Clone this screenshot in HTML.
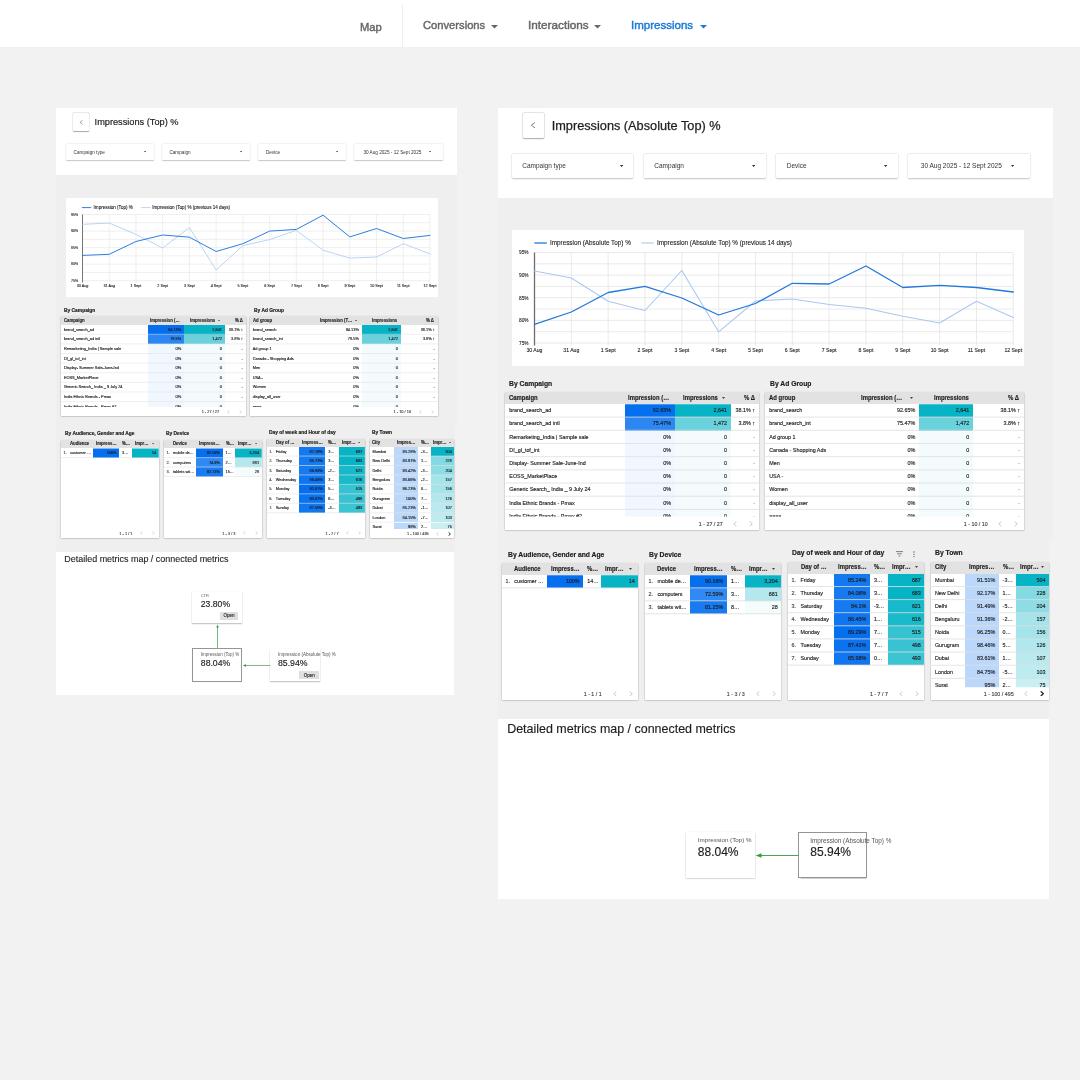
<!DOCTYPE html><html><head><meta charset="utf-8"><title>Impressions dashboard</title><style>
html,body{margin:0;padding:0}body{width:1080px;height:1080px;overflow:hidden;position:relative;background:#f2f2f2;font-family:"Liberation Sans",sans-serif;}
.a{position:absolute;display:block}.t{position:absolute;white-space:nowrap;line-height:1;transform-origin:0 0;font-family:"Liberation Sans",sans-serif;}.b{font-weight:bold}
.tb{background:#fff;box-shadow:0 .9px 1.5px rgba(0,0,0,.34),0 0 1.2px rgba(0,0,0,.12)}
</style></head><body><div id="root" style="position:absolute;left:0;top:0;width:1080px;height:1080px;overflow:hidden;will-change:transform;transform:translateZ(0);filter:blur(0.3px);">
<div class="a " style="left:56px;top:175px;width:401px;height:247px;background:#efefef;"></div>
<div class="a " style="left:56px;top:422px;width:398.5px;height:130px;background:#efefef;"></div>
<div class="a " style="left:56px;top:107.8px;width:401px;height:67.2px;background:#fff;"></div>
<div class="a " style="left:73.4px;top:113.1px;width:15.7px;height:18.3px;background:#fff;box-shadow:0 0.65px 0.98px rgba(0,0,0,.3),0 0 0 0.39px rgba(0,0,0,.12);border-radius:0.78px;"></div>
<svg class="a" style="left:78.95px;top:119.95px" width="4.6" height="4.6" viewBox="0 0 8 8"><path d="M6.3 0.6L1.6 4L6.3 7.4" fill="none" stroke="#828282" stroke-width="1.25"/></svg>
<span class="t" style="left:94.6px;top:118px;font-size:9.21px;color:#1e1e1e;-webkit-text-stroke:0.18px #1e1e1e;">Impressions (Top) %</span>
<div class="a " style="left:65.5px;top:143.9px;width:88.5px;height:16.3px;background:#fff;box-shadow:0 0.65px 1.3px rgba(0,0,0,.22),0 0 1.3px rgba(0,0,0,.10);border-radius:1px;"></div>
<span class="t" style="left:73.6px;top:151px;font-size:4.68px;color:#333;">Campaign type</span>
<svg class="a" style="left:144.1px;top:151.39px" width="2.2" height="1.38" viewBox="0 0 8 5"><path d="M0 0H8L4 5Z" fill="#333"/></svg>
<div class="a " style="left:161.6px;top:143.9px;width:88.2px;height:16.3px;background:#fff;box-shadow:0 0.65px 1.3px rgba(0,0,0,.22),0 0 1.3px rgba(0,0,0,.10);border-radius:1px;"></div>
<span class="t" style="left:169.4px;top:151px;font-size:4.68px;color:#333;">Campaign</span>
<svg class="a" style="left:240.3px;top:151.39px" width="2.2" height="1.38" viewBox="0 0 8 5"><path d="M0 0H8L4 5Z" fill="#333"/></svg>
<div class="a " style="left:257.5px;top:143.9px;width:88.9px;height:16.3px;background:#fff;box-shadow:0 0.65px 1.3px rgba(0,0,0,.22),0 0 1.3px rgba(0,0,0,.10);border-radius:1px;"></div>
<span class="t" style="left:265.9px;top:151px;font-size:4.68px;color:#333;">Device</span>
<svg class="a" style="left:336.3px;top:151.39px" width="2.2" height="1.38" viewBox="0 0 8 5"><path d="M0 0H8L4 5Z" fill="#333"/></svg>
<div class="a " style="left:353.5px;top:143.9px;width:89px;height:16.3px;background:#fff;box-shadow:0 0.65px 1.3px rgba(0,0,0,.22),0 0 1.3px rgba(0,0,0,.10);border-radius:1px;"></div>
<span class="t" style="left:363.4px;top:151px;font-size:4.68px;color:#333;">30 Aug 2025 - 12 Sept 2025</span>
<svg class="a" style="left:429.2px;top:151.39px" width="2.2" height="1.38" viewBox="0 0 8 5"><path d="M0 0H8L4 5Z" fill="#333"/></svg>
<div class="a " style="left:65.6px;top:197.6px;width:372.9px;height:99.8px;background:#fff;"></div>
<svg class="a" style="left:0;top:0" width="1080" height="1080" viewBox="0 0 1080 1080"><path d="M82.5 214.5H429.99" stroke="#e4e4e4" stroke-width="0.6"/><path d="M82.5 222.78H429.99" stroke="#e4e4e4" stroke-width="0.6"/><path d="M82.5 231.05H429.99" stroke="#e4e4e4" stroke-width="0.6"/><path d="M82.5 239.32H429.99" stroke="#e4e4e4" stroke-width="0.6"/><path d="M82.5 247.6H429.99" stroke="#e4e4e4" stroke-width="0.6"/><path d="M82.5 255.88H429.99" stroke="#e4e4e4" stroke-width="0.6"/><path d="M82.5 264.15H429.99" stroke="#e4e4e4" stroke-width="0.6"/><path d="M82.5 272.43H429.99" stroke="#e4e4e4" stroke-width="0.6"/><path d="M82.5 280.7H429.99" stroke="#e4e4e4" stroke-width="0.6"/><path d="M82.5 214.5V282.5" stroke="#e4e4e4" stroke-width="0.6"/><path d="M109.23 214.5V282.5" stroke="#e4e4e4" stroke-width="0.6"/><path d="M135.96 214.5V282.5" stroke="#e4e4e4" stroke-width="0.6"/><path d="M162.69 214.5V282.5" stroke="#e4e4e4" stroke-width="0.6"/><path d="M189.42 214.5V282.5" stroke="#e4e4e4" stroke-width="0.6"/><path d="M216.15 214.5V282.5" stroke="#e4e4e4" stroke-width="0.6"/><path d="M242.88 214.5V282.5" stroke="#e4e4e4" stroke-width="0.6"/><path d="M269.61 214.5V282.5" stroke="#e4e4e4" stroke-width="0.6"/><path d="M296.34 214.5V282.5" stroke="#e4e4e4" stroke-width="0.6"/><path d="M323.07 214.5V282.5" stroke="#e4e4e4" stroke-width="0.6"/><path d="M349.8 214.5V282.5" stroke="#e4e4e4" stroke-width="0.6"/><path d="M376.53 214.5V282.5" stroke="#e4e4e4" stroke-width="0.6"/><path d="M403.26 214.5V282.5" stroke="#e4e4e4" stroke-width="0.6"/><path d="M429.99 214.5V282.5" stroke="#e4e4e4" stroke-width="0.6"/><path d="M82.5 214.5V282.5" stroke="#6e6e6e" stroke-width="0.95"/><polyline points="82.5,224.4 109.23,223 135.96,234.4 162.69,248 189.42,227.6 216.15,270 242.88,245.6 269.61,239.6 296.34,230.4 323.07,250.2 349.8,258.1 376.53,257 403.26,243.7 429.99,253.9" fill="none" stroke="#a9c9f0" stroke-width="0.8" stroke-linejoin="round" stroke-linecap="round"/><polyline points="82.5,255.4 109.23,254.3 135.96,241.5 162.69,235 189.42,237.2 216.15,251.5 242.88,243.7 269.61,231.1 296.34,229.4 323.07,215.2 349.8,236.9 376.53,228.5 403.26,238.5 429.99,235.4" fill="none" stroke="#2278dc" stroke-width="0.95" stroke-linejoin="round" stroke-linecap="round"/><path d="M81.9 207.6H91.2" stroke="#2278dc" stroke-width="0.95"/><path d="M141.2 207.6H150.4" stroke="#a9c9f0" stroke-width="0.8"/></svg>
<span class="t" style="left:93.6px;top:206px;font-size:4.56px;color:#222;-webkit-text-stroke:0.1px #222;">Impression (Top) %</span>
<span class="t" style="left:152.3px;top:206px;font-size:4.56px;color:#222;-webkit-text-stroke:0.1px #222;">Impression (Top) % (previous 14 days)</span>
<span class="t" style="left:71.3px;top:214px;font-size:3.75px;color:#222;transform:scaleX(0.93);-webkit-text-stroke:0.1px #222;">95%</span>
<span class="t" style="left:71.3px;top:230px;font-size:3.75px;color:#222;transform:scaleX(0.93);-webkit-text-stroke:0.1px #222;">90%</span>
<span class="t" style="left:71.3px;top:247px;font-size:3.75px;color:#222;transform:scaleX(0.93);-webkit-text-stroke:0.1px #222;">85%</span>
<span class="t" style="left:71.3px;top:263px;font-size:3.75px;color:#222;transform:scaleX(0.93);-webkit-text-stroke:0.1px #222;">80%</span>
<span class="t" style="left:71.3px;top:280px;font-size:3.75px;color:#222;transform:scaleX(0.93);-webkit-text-stroke:0.1px #222;">75%</span>
<span class="t" style="left:76.66px;top:285px;font-size:3.75px;color:#222;-webkit-text-stroke:0.1px #222;">30 Aug</span>
<span class="t" style="left:103.39px;top:285px;font-size:3.75px;color:#222;-webkit-text-stroke:0.1px #222;">31 Aug</span>
<span class="t" style="left:130.54px;top:285px;font-size:3.75px;color:#222;-webkit-text-stroke:0.1px #222;">1 Sept</span>
<span class="t" style="left:157.27px;top:285px;font-size:3.75px;color:#222;-webkit-text-stroke:0.1px #222;">2 Sept</span>
<span class="t" style="left:184px;top:285px;font-size:3.75px;color:#222;-webkit-text-stroke:0.1px #222;">3 Sept</span>
<span class="t" style="left:210.73px;top:285px;font-size:3.75px;color:#222;-webkit-text-stroke:0.1px #222;">4 Sept</span>
<span class="t" style="left:237.46px;top:285px;font-size:3.75px;color:#222;-webkit-text-stroke:0.1px #222;">5 Sept</span>
<span class="t" style="left:264.19px;top:285px;font-size:3.75px;color:#222;-webkit-text-stroke:0.1px #222;">6 Sept</span>
<span class="t" style="left:290.92px;top:285px;font-size:3.75px;color:#222;-webkit-text-stroke:0.1px #222;">7 Sept</span>
<span class="t" style="left:317.65px;top:285px;font-size:3.75px;color:#222;-webkit-text-stroke:0.1px #222;">8 Sept</span>
<span class="t" style="left:344.38px;top:285px;font-size:3.75px;color:#222;-webkit-text-stroke:0.1px #222;">9 Sept</span>
<span class="t" style="left:370.07px;top:285px;font-size:3.75px;color:#222;-webkit-text-stroke:0.1px #222;">10 Sept</span>
<span class="t" style="left:396.94px;top:285px;font-size:3.75px;color:#222;-webkit-text-stroke:0.1px #222;">11 Sept</span>
<span class="t" style="left:423.53px;top:285px;font-size:3.75px;color:#222;-webkit-text-stroke:0.1px #222;">12 Sept</span>
<span class="t b" style="left:64px;top:308px;font-size:5.2px;color:#1c1c1c;transform:scaleX(0.94);-webkit-text-stroke:0.18px #1c1c1c;">By Campaign</span>
<span class="t b" style="left:253.6px;top:308px;font-size:5.2px;color:#1c1c1c;transform:scaleX(0.94);-webkit-text-stroke:0.18px #1c1c1c;">By Ad Group</span>
<div class="a tb" style="left:61px;top:316.3px;width:184.8px;height:99.8px;"></div>
<div class="a " style="left:61px;top:316.3px;width:184.8px;height:8.7px;background:#e2e2e2;"></div>
<span class="t b" style="left:63.9px;top:319px;font-size:4.55px;color:#1f1f1f;transform:scaleX(0.94);-webkit-text-stroke:0.14px #1f1f1f;">Campaign</span>
<span class="t b" style="left:149.83px;top:319px;font-size:4.55px;color:#1f1f1f;transform:scaleX(0.94);-webkit-text-stroke:0.14px #1f1f1f;">Impression (…</span>
<span class="t b" style="left:190.07px;top:319px;font-size:4.55px;color:#1f1f1f;transform:scaleX(0.94);-webkit-text-stroke:0.14px #1f1f1f;">Impressions</span>
<svg class="a" style="left:218.3px;top:319.78px" width="2.2" height="1.38" viewBox="0 0 8 5"><path d="M0 0H8L4 5Z" fill="#444"/></svg>
<span class="t b" style="left:234.75px;top:319px;font-size:4.55px;color:#1f1f1f;transform:scaleX(0.94);-webkit-text-stroke:0.14px #1f1f1f;">% Δ</span>
<div class="a" style="left:0;top:0;width:1080px;height:1080px;clip-path:inset(325px 834.2px 673px 61px);">
<div class="a " style="left:148px;top:325px;width:36.1px;height:9.61px;background:#0470f0;"></div>
<div class="a " style="left:184.1px;top:325px;width:40.8px;height:9.61px;background:#06b4c6;"></div>
<span class="t" style="left:63.9px;top:328px;font-size:3.9px;color:#1c1c1c;-webkit-text-stroke:0.13px #1c1c1c;">brand_search_ad</span>
<span class="t" style="left:167.97px;top:328px;font-size:3.9px;color:#1c1c1c;-webkit-text-stroke:0.13px #1c1c1c;">94.13%</span>
<span class="t" style="left:212.24px;top:328px;font-size:3.9px;color:#1c1c1c;-webkit-text-stroke:0.13px #1c1c1c;">2,641</span>
<span class="t" style="left:228.81px;top:328px;font-size:3.9px;color:#1c1c1c;-webkit-text-stroke:0.13px #1c1c1c;">38.1% ↑</span>
<div class="a " style="left:148px;top:334.61px;width:36.1px;height:9.61px;background:#2c87f2;"></div>
<div class="a " style="left:184.1px;top:334.61px;width:40.8px;height:9.61px;background:#6ad2dd;"></div>
<span class="t" style="left:63.9px;top:337px;font-size:3.9px;color:#1c1c1c;-webkit-text-stroke:0.13px #1c1c1c;">brand_search_ad intl</span>
<span class="t" style="left:170.14px;top:337px;font-size:3.9px;color:#1c1c1c;-webkit-text-stroke:0.13px #1c1c1c;">78.5%</span>
<span class="t" style="left:212.24px;top:337px;font-size:3.9px;color:#1c1c1c;-webkit-text-stroke:0.13px #1c1c1c;">1,472</span>
<span class="t" style="left:230.98px;top:337px;font-size:3.9px;color:#1c1c1c;-webkit-text-stroke:0.13px #1c1c1c;">3.8% ↑</span>
<div class="a " style="left:148px;top:344.22px;width:36.1px;height:9.61px;background:#f1f7fe;"></div>
<div class="a " style="left:184.1px;top:344.22px;width:40.8px;height:9.61px;background:#f3fbfc;"></div>
<span class="t" style="left:63.9px;top:347px;font-size:3.9px;color:#1c1c1c;-webkit-text-stroke:0.13px #1c1c1c;">Remarketing_India | Sample sale</span>
<span class="t" style="left:175.56px;top:347px;font-size:3.9px;color:#1c1c1c;-webkit-text-stroke:0.13px #1c1c1c;">0%</span>
<span class="t" style="left:219.83px;top:347px;font-size:3.9px;color:#1c1c1c;-webkit-text-stroke:0.13px #1c1c1c;">0</span>
<span class="t" style="left:241.6px;top:347px;font-size:3.9px;color:#888;-webkit-text-stroke:0.13px #888;">-</span>
<div class="a " style="left:148px;top:353.83px;width:36.1px;height:9.61px;background:#f1f7fe;"></div>
<div class="a " style="left:184.1px;top:353.83px;width:40.8px;height:9.61px;background:#f3fbfc;"></div>
<span class="t" style="left:63.9px;top:357px;font-size:3.9px;color:#1c1c1c;-webkit-text-stroke:0.13px #1c1c1c;">DI_gl_tof_int</span>
<span class="t" style="left:175.56px;top:357px;font-size:3.9px;color:#1c1c1c;-webkit-text-stroke:0.13px #1c1c1c;">0%</span>
<span class="t" style="left:219.83px;top:357px;font-size:3.9px;color:#1c1c1c;-webkit-text-stroke:0.13px #1c1c1c;">0</span>
<span class="t" style="left:241.6px;top:357px;font-size:3.9px;color:#888;-webkit-text-stroke:0.13px #888;">-</span>
<div class="a " style="left:148px;top:363.44px;width:36.1px;height:9.61px;background:#f1f7fe;"></div>
<div class="a " style="left:184.1px;top:363.44px;width:40.8px;height:9.61px;background:#f3fbfc;"></div>
<span class="t" style="left:63.9px;top:366px;font-size:3.9px;color:#1c1c1c;-webkit-text-stroke:0.13px #1c1c1c;">Display- Summer Sale-June-Ind</span>
<span class="t" style="left:175.56px;top:366px;font-size:3.9px;color:#1c1c1c;-webkit-text-stroke:0.13px #1c1c1c;">0%</span>
<span class="t" style="left:219.83px;top:366px;font-size:3.9px;color:#1c1c1c;-webkit-text-stroke:0.13px #1c1c1c;">0</span>
<span class="t" style="left:241.6px;top:366px;font-size:3.9px;color:#888;-webkit-text-stroke:0.13px #888;">-</span>
<div class="a " style="left:148px;top:373.05px;width:36.1px;height:9.61px;background:#f1f7fe;"></div>
<div class="a " style="left:184.1px;top:373.05px;width:40.8px;height:9.61px;background:#f3fbfc;"></div>
<span class="t" style="left:63.9px;top:376px;font-size:3.9px;color:#1c1c1c;-webkit-text-stroke:0.13px #1c1c1c;">EOSS_MarketPlace</span>
<span class="t" style="left:175.56px;top:376px;font-size:3.9px;color:#1c1c1c;-webkit-text-stroke:0.13px #1c1c1c;">0%</span>
<span class="t" style="left:219.83px;top:376px;font-size:3.9px;color:#1c1c1c;-webkit-text-stroke:0.13px #1c1c1c;">0</span>
<span class="t" style="left:241.6px;top:376px;font-size:3.9px;color:#888;-webkit-text-stroke:0.13px #888;">-</span>
<div class="a " style="left:148px;top:382.66px;width:36.1px;height:9.61px;background:#f1f7fe;"></div>
<div class="a " style="left:184.1px;top:382.66px;width:40.8px;height:9.61px;background:#f3fbfc;"></div>
<span class="t" style="left:63.9px;top:385px;font-size:3.9px;color:#1c1c1c;-webkit-text-stroke:0.13px #1c1c1c;">Generic Search_ India _ 9 July 24</span>
<span class="t" style="left:175.56px;top:385px;font-size:3.9px;color:#1c1c1c;-webkit-text-stroke:0.13px #1c1c1c;">0%</span>
<span class="t" style="left:219.83px;top:385px;font-size:3.9px;color:#1c1c1c;-webkit-text-stroke:0.13px #1c1c1c;">0</span>
<span class="t" style="left:241.6px;top:385px;font-size:3.9px;color:#888;-webkit-text-stroke:0.13px #888;">-</span>
<div class="a " style="left:148px;top:392.27px;width:36.1px;height:9.61px;background:#f1f7fe;"></div>
<div class="a " style="left:184.1px;top:392.27px;width:40.8px;height:9.61px;background:#f3fbfc;"></div>
<span class="t" style="left:63.9px;top:395px;font-size:3.9px;color:#1c1c1c;-webkit-text-stroke:0.13px #1c1c1c;">India Ethnic Brands - Pmax</span>
<span class="t" style="left:175.56px;top:395px;font-size:3.9px;color:#1c1c1c;-webkit-text-stroke:0.13px #1c1c1c;">0%</span>
<span class="t" style="left:219.83px;top:395px;font-size:3.9px;color:#1c1c1c;-webkit-text-stroke:0.13px #1c1c1c;">0</span>
<span class="t" style="left:241.6px;top:395px;font-size:3.9px;color:#888;-webkit-text-stroke:0.13px #888;">-</span>
<div class="a " style="left:148px;top:401.88px;width:36.1px;height:9.61px;background:#f1f7fe;"></div>
<div class="a " style="left:184.1px;top:401.88px;width:40.8px;height:9.61px;background:#f3fbfc;"></div>
<span class="t" style="left:63.9px;top:405px;font-size:3.9px;color:#1c1c1c;-webkit-text-stroke:0.13px #1c1c1c;">India Ethnic Brands - Pmax #2</span>
<span class="t" style="left:175.56px;top:405px;font-size:3.9px;color:#1c1c1c;-webkit-text-stroke:0.13px #1c1c1c;">0%</span>
<span class="t" style="left:219.83px;top:405px;font-size:3.9px;color:#1c1c1c;-webkit-text-stroke:0.13px #1c1c1c;">0</span>
<span class="t" style="left:241.6px;top:405px;font-size:3.9px;color:#888;-webkit-text-stroke:0.13px #888;">-</span>
<svg class="a" style="left:0;top:0" width="1080" height="1080"><path d="M61 334.31H245.8M61 343.92H245.8M61 353.53H245.8M61 363.14H245.8M61 372.75H245.8M61 382.36H245.8M61 391.97H245.8M61 401.58H245.8M61 411.19H245.8" stroke="#e4e4e4" stroke-width="0.6" fill="none"/></svg>
</div>
<span class="t" style="left:201.64px;top:410px;font-size:3.9px;color:#444;-webkit-text-stroke:0.13px #444;">1 - 27 / 27</span>
<svg class="a" style="left:226.7px;top:409.7px" width="3" height="4" viewBox="0 0 6 8"><path d="M5 0.5L1.2 4L5 7.5" fill="none" stroke="#b8b8b8" stroke-width="1.1"/></svg>
<svg class="a" style="left:238.7px;top:409.7px" width="3" height="4" viewBox="0 0 6 8"><path d="M1 0.5L4.8 4L1 7.5" fill="none" stroke="#b8b8b8" stroke-width="1.1"/></svg>
<div class="a tb" style="left:249.8px;top:316.3px;width:187.9px;height:99.8px;"></div>
<div class="a " style="left:249.8px;top:316.3px;width:187.9px;height:8.7px;background:#e2e2e2;"></div>
<span class="t b" style="left:252.7px;top:319px;font-size:4.55px;color:#1f1f1f;transform:scaleX(0.94);-webkit-text-stroke:0.14px #1f1f1f;">Ad group</span>
<span class="t b" style="left:319.91px;top:319px;font-size:4.55px;color:#1f1f1f;transform:scaleX(0.94);-webkit-text-stroke:0.14px #1f1f1f;">Impression (T…</span>
<svg class="a" style="left:355.4px;top:319.78px" width="2.2" height="1.38" viewBox="0 0 8 5"><path d="M0 0H8L4 5Z" fill="#444"/></svg>
<span class="t b" style="left:372.47px;top:319px;font-size:4.55px;color:#1f1f1f;transform:scaleX(0.94);-webkit-text-stroke:0.14px #1f1f1f;">Impressions</span>
<span class="t b" style="left:426.35px;top:319px;font-size:4.55px;color:#1f1f1f;transform:scaleX(0.94);-webkit-text-stroke:0.14px #1f1f1f;">% Δ</span>
<div class="a" style="left:0;top:0;width:1080px;height:1080px;clip-path:inset(325px 642.3px 673px 249.8px);">
<div class="a " style="left:361.8px;top:325px;width:39.1px;height:9.61px;background:#06b4c6;"></div>
<span class="t" style="left:252.7px;top:328px;font-size:3.9px;color:#1c1c1c;-webkit-text-stroke:0.13px #1c1c1c;">brand_search</span>
<span class="t" style="left:345.67px;top:328px;font-size:3.9px;color:#1c1c1c;-webkit-text-stroke:0.13px #1c1c1c;">94.13%</span>
<span class="t" style="left:388.24px;top:328px;font-size:3.9px;color:#1c1c1c;-webkit-text-stroke:0.13px #1c1c1c;">2,641</span>
<span class="t" style="left:420.71px;top:328px;font-size:3.9px;color:#1c1c1c;-webkit-text-stroke:0.13px #1c1c1c;">38.1% ↑</span>
<div class="a " style="left:361.8px;top:334.61px;width:39.1px;height:9.61px;background:#6ad2dd;"></div>
<span class="t" style="left:252.7px;top:337px;font-size:3.9px;color:#1c1c1c;-webkit-text-stroke:0.13px #1c1c1c;">brand_search_int</span>
<span class="t" style="left:347.84px;top:337px;font-size:3.9px;color:#1c1c1c;-webkit-text-stroke:0.13px #1c1c1c;">78.5%</span>
<span class="t" style="left:388.24px;top:337px;font-size:3.9px;color:#1c1c1c;-webkit-text-stroke:0.13px #1c1c1c;">1,472</span>
<span class="t" style="left:422.88px;top:337px;font-size:3.9px;color:#1c1c1c;-webkit-text-stroke:0.13px #1c1c1c;">3.8% ↑</span>
<div class="a " style="left:361.8px;top:344.22px;width:39.1px;height:9.61px;background:#f3fbfc;"></div>
<span class="t" style="left:252.7px;top:347px;font-size:3.9px;color:#1c1c1c;-webkit-text-stroke:0.13px #1c1c1c;">Ad group 1</span>
<span class="t" style="left:353.26px;top:347px;font-size:3.9px;color:#1c1c1c;-webkit-text-stroke:0.13px #1c1c1c;">0%</span>
<span class="t" style="left:395.83px;top:347px;font-size:3.9px;color:#1c1c1c;-webkit-text-stroke:0.13px #1c1c1c;">0</span>
<span class="t" style="left:433.5px;top:347px;font-size:3.9px;color:#888;-webkit-text-stroke:0.13px #888;">-</span>
<div class="a " style="left:361.8px;top:353.83px;width:39.1px;height:9.61px;background:#f3fbfc;"></div>
<span class="t" style="left:252.7px;top:357px;font-size:3.9px;color:#1c1c1c;-webkit-text-stroke:0.13px #1c1c1c;">Canada - Shopping Ads</span>
<span class="t" style="left:353.26px;top:357px;font-size:3.9px;color:#1c1c1c;-webkit-text-stroke:0.13px #1c1c1c;">0%</span>
<span class="t" style="left:395.83px;top:357px;font-size:3.9px;color:#1c1c1c;-webkit-text-stroke:0.13px #1c1c1c;">0</span>
<span class="t" style="left:433.5px;top:357px;font-size:3.9px;color:#888;-webkit-text-stroke:0.13px #888;">-</span>
<div class="a " style="left:361.8px;top:363.44px;width:39.1px;height:9.61px;background:#f3fbfc;"></div>
<span class="t" style="left:252.7px;top:366px;font-size:3.9px;color:#1c1c1c;-webkit-text-stroke:0.13px #1c1c1c;">Men</span>
<span class="t" style="left:353.26px;top:366px;font-size:3.9px;color:#1c1c1c;-webkit-text-stroke:0.13px #1c1c1c;">0%</span>
<span class="t" style="left:395.83px;top:366px;font-size:3.9px;color:#1c1c1c;-webkit-text-stroke:0.13px #1c1c1c;">0</span>
<span class="t" style="left:433.5px;top:366px;font-size:3.9px;color:#888;-webkit-text-stroke:0.13px #888;">-</span>
<div class="a " style="left:361.8px;top:373.05px;width:39.1px;height:9.61px;background:#f3fbfc;"></div>
<span class="t" style="left:252.7px;top:376px;font-size:3.9px;color:#1c1c1c;-webkit-text-stroke:0.13px #1c1c1c;">USA -</span>
<span class="t" style="left:353.26px;top:376px;font-size:3.9px;color:#1c1c1c;-webkit-text-stroke:0.13px #1c1c1c;">0%</span>
<span class="t" style="left:395.83px;top:376px;font-size:3.9px;color:#1c1c1c;-webkit-text-stroke:0.13px #1c1c1c;">0</span>
<span class="t" style="left:433.5px;top:376px;font-size:3.9px;color:#888;-webkit-text-stroke:0.13px #888;">-</span>
<div class="a " style="left:361.8px;top:382.66px;width:39.1px;height:9.61px;background:#f3fbfc;"></div>
<span class="t" style="left:252.7px;top:385px;font-size:3.9px;color:#1c1c1c;-webkit-text-stroke:0.13px #1c1c1c;">Women</span>
<span class="t" style="left:353.26px;top:385px;font-size:3.9px;color:#1c1c1c;-webkit-text-stroke:0.13px #1c1c1c;">0%</span>
<span class="t" style="left:395.83px;top:385px;font-size:3.9px;color:#1c1c1c;-webkit-text-stroke:0.13px #1c1c1c;">0</span>
<span class="t" style="left:433.5px;top:385px;font-size:3.9px;color:#888;-webkit-text-stroke:0.13px #888;">-</span>
<div class="a " style="left:361.8px;top:392.27px;width:39.1px;height:9.61px;background:#f3fbfc;"></div>
<span class="t" style="left:252.7px;top:395px;font-size:3.9px;color:#1c1c1c;-webkit-text-stroke:0.13px #1c1c1c;">display_all_user</span>
<span class="t" style="left:353.26px;top:395px;font-size:3.9px;color:#1c1c1c;-webkit-text-stroke:0.13px #1c1c1c;">0%</span>
<span class="t" style="left:395.83px;top:395px;font-size:3.9px;color:#1c1c1c;-webkit-text-stroke:0.13px #1c1c1c;">0</span>
<span class="t" style="left:433.5px;top:395px;font-size:3.9px;color:#888;-webkit-text-stroke:0.13px #888;">-</span>
<div class="a " style="left:361.8px;top:401.88px;width:39.1px;height:9.61px;background:#f3fbfc;"></div>
<span class="t" style="left:252.7px;top:405px;font-size:3.9px;color:#1c1c1c;-webkit-text-stroke:0.13px #1c1c1c;">aaaa</span>
<span class="t" style="left:353.26px;top:405px;font-size:3.9px;color:#1c1c1c;-webkit-text-stroke:0.13px #1c1c1c;">0%</span>
<span class="t" style="left:395.83px;top:405px;font-size:3.9px;color:#1c1c1c;-webkit-text-stroke:0.13px #1c1c1c;">0</span>
<span class="t" style="left:433.5px;top:405px;font-size:3.9px;color:#888;-webkit-text-stroke:0.13px #888;">-</span>
<svg class="a" style="left:0;top:0" width="1080" height="1080"><path d="M249.8 334.31H437.7M249.8 343.92H437.7M249.8 353.53H437.7M249.8 363.14H437.7M249.8 372.75H437.7M249.8 382.36H437.7M249.8 391.97H437.7M249.8 401.58H437.7M249.8 411.19H437.7" stroke="#e4e4e4" stroke-width="0.6" fill="none"/></svg>
</div>
<span class="t" style="left:393.54px;top:410px;font-size:3.9px;color:#444;-webkit-text-stroke:0.13px #444;">1 - 10 / 10</span>
<svg class="a" style="left:418.6px;top:409.7px" width="3" height="4" viewBox="0 0 6 8"><path d="M5 0.5L1.2 4L5 7.5" fill="none" stroke="#b8b8b8" stroke-width="1.1"/></svg>
<svg class="a" style="left:430.6px;top:409.7px" width="3" height="4" viewBox="0 0 6 8"><path d="M1 0.5L4.8 4L1 7.5" fill="none" stroke="#b8b8b8" stroke-width="1.1"/></svg>
<span class="t b" style="left:64.7px;top:431px;font-size:5.2px;color:#1c1c1c;transform:scaleX(0.94);-webkit-text-stroke:0.18px #1c1c1c;">By Audience, Gender and Age</span>
<span class="t b" style="left:166.4px;top:431px;font-size:5.2px;color:#1c1c1c;transform:scaleX(0.94);-webkit-text-stroke:0.18px #1c1c1c;">By Device</span>
<span class="t b" style="left:269.2px;top:430px;font-size:5.2px;color:#1c1c1c;transform:scaleX(0.94);-webkit-text-stroke:0.18px #1c1c1c;">Day of week and Hour of day</span>
<span class="t b" style="left:372.1px;top:430px;font-size:5.2px;color:#1c1c1c;transform:scaleX(0.94);-webkit-text-stroke:0.18px #1c1c1c;">By Town</span>
<div class="a tb" style="left:60.9px;top:439.7px;width:97.8px;height:98.1px;"></div>
<div class="a " style="left:60.9px;top:439.7px;width:97.8px;height:8.75px;background:#e2e2e2;"></div>
<span class="t b" style="left:69.9px;top:442px;font-size:4.55px;color:#1f1f1f;transform:scaleX(0.94);-webkit-text-stroke:0.14px #1f1f1f;">Audience</span>
<span class="t b" style="left:95.8px;top:442px;font-size:4.55px;color:#1f1f1f;transform:scaleX(0.94);-webkit-text-stroke:0.14px #1f1f1f;">Impress…</span>
<span class="t b" style="left:122.1px;top:442px;font-size:4.55px;color:#1f1f1f;transform:scaleX(0.94);-webkit-text-stroke:0.14px #1f1f1f;">%…</span>
<span class="t b" style="left:134.7px;top:442px;font-size:4.55px;color:#1f1f1f;transform:scaleX(0.94);-webkit-text-stroke:0.14px #1f1f1f;">Impr…</span>
<svg class="a" style="left:151.8px;top:443.21px" width="2.2" height="1.38" viewBox="0 0 8 5"><path d="M0 0H8L4 5Z" fill="#444"/></svg>
<div class="a" style="left:0;top:0;width:1080px;height:1080px;clip-path:inset(448.45px 921.3px 542.2px 60.9px);">
<div class="a " style="left:92.9px;top:448.45px;width:26.3px;height:9.45px;background:#0470f0;"></div>
<div class="a " style="left:131.8px;top:448.45px;width:26.9px;height:9.45px;background:#06b4c6;"></div>
<span class="t" style="left:63.4px;top:451px;font-size:3.9px;color:#444;-webkit-text-stroke:0.13px #444;">1.</span>
<span class="t" style="left:69.9px;top:451px;font-size:3.9px;color:#1c1c1c;-webkit-text-stroke:0.13px #1c1c1c;">customer …</span>
<span class="t" style="left:106.63px;top:451px;font-size:3.9px;color:#1c1c1c;-webkit-text-stroke:0.13px #1c1c1c;">100%</span>
<span class="t" style="left:122.1px;top:451px;font-size:3.9px;color:#1c1c1c;-webkit-text-stroke:0.13px #1c1c1c;">3…</span>
<span class="t" style="left:151.76px;top:451px;font-size:3.9px;color:#1c1c1c;-webkit-text-stroke:0.13px #1c1c1c;">14</span>
<svg class="a" style="left:0;top:0" width="1080" height="1080"><path d="M60.9 457.6H158.7" stroke="#e4e4e4" stroke-width="0.6" fill="none"/></svg>
</div>
<span class="t" style="left:119.28px;top:532px;font-size:3.9px;color:#444;-webkit-text-stroke:0.13px #444;">1 - 1 / 1</span>
<svg class="a" style="left:140.1px;top:531.4px" width="3" height="4" viewBox="0 0 6 8"><path d="M5 0.5L1.2 4L5 7.5" fill="none" stroke="#b8b8b8" stroke-width="1.1"/></svg>
<svg class="a" style="left:152px;top:531.4px" width="3" height="4" viewBox="0 0 6 8"><path d="M1 0.5L4.8 4L1 7.5" fill="none" stroke="#b8b8b8" stroke-width="1.1"/></svg>
<div class="a tb" style="left:163.9px;top:439.7px;width:97.8px;height:98.1px;"></div>
<div class="a " style="left:163.9px;top:439.7px;width:97.8px;height:8.75px;background:#e2e2e2;"></div>
<span class="t b" style="left:172.9px;top:442px;font-size:4.55px;color:#1f1f1f;transform:scaleX(0.94);-webkit-text-stroke:0.14px #1f1f1f;">Device</span>
<span class="t b" style="left:198.9px;top:442px;font-size:4.55px;color:#1f1f1f;transform:scaleX(0.94);-webkit-text-stroke:0.14px #1f1f1f;">Impress…</span>
<span class="t b" style="left:225.5px;top:442px;font-size:4.55px;color:#1f1f1f;transform:scaleX(0.94);-webkit-text-stroke:0.14px #1f1f1f;">%…</span>
<span class="t b" style="left:238.2px;top:442px;font-size:4.55px;color:#1f1f1f;transform:scaleX(0.94);-webkit-text-stroke:0.14px #1f1f1f;">Impr…</span>
<svg class="a" style="left:254.8px;top:443.21px" width="2.2" height="1.38" viewBox="0 0 8 5"><path d="M0 0H8L4 5Z" fill="#444"/></svg>
<div class="a" style="left:0;top:0;width:1080px;height:1080px;clip-path:inset(448.45px 818.3px 542.2px 163.9px);">
<div class="a " style="left:196px;top:448.45px;width:26.6px;height:9.45px;background:#0470f0;"></div>
<div class="a " style="left:235.3px;top:448.45px;width:26.4px;height:9.45px;background:#06b4c6;"></div>
<span class="t" style="left:166.4px;top:451px;font-size:3.9px;color:#444;-webkit-text-stroke:0.13px #444;">1.</span>
<span class="t" style="left:172.9px;top:451px;font-size:3.9px;color:#1c1c1c;-webkit-text-stroke:0.13px #1c1c1c;">mobile de…</span>
<span class="t" style="left:206.77px;top:451px;font-size:3.9px;color:#1c1c1c;-webkit-text-stroke:0.13px #1c1c1c;">92.59%</span>
<span class="t" style="left:225.5px;top:451px;font-size:3.9px;color:#1c1c1c;-webkit-text-stroke:0.13px #1c1c1c;">1…</span>
<span class="t" style="left:249.34px;top:451px;font-size:3.9px;color:#1c1c1c;-webkit-text-stroke:0.13px #1c1c1c;">3,204</span>
<div class="a " style="left:196px;top:457.9px;width:26.6px;height:9.45px;background:#318af3;"></div>
<div class="a " style="left:235.3px;top:457.9px;width:26.4px;height:9.45px;background:#b4e8ee;"></div>
<span class="t" style="left:166.4px;top:461px;font-size:3.9px;color:#444;-webkit-text-stroke:0.13px #444;">2.</span>
<span class="t" style="left:172.9px;top:461px;font-size:3.9px;color:#1c1c1c;-webkit-text-stroke:0.13px #1c1c1c;">computers</span>
<span class="t" style="left:208.94px;top:461px;font-size:3.9px;color:#1c1c1c;-webkit-text-stroke:0.13px #1c1c1c;">74.9%</span>
<span class="t" style="left:225.5px;top:461px;font-size:3.9px;color:#1c1c1c;-webkit-text-stroke:0.13px #1c1c1c;">2…</span>
<span class="t" style="left:252.59px;top:461px;font-size:3.9px;color:#1c1c1c;-webkit-text-stroke:0.13px #1c1c1c;">881</span>
<div class="a " style="left:196px;top:467.35px;width:26.6px;height:9.45px;background:#187bf1;"></div>
<div class="a " style="left:235.3px;top:467.35px;width:26.4px;height:9.45px;background:#f4fcfc;"></div>
<span class="t" style="left:166.4px;top:470px;font-size:3.9px;color:#444;-webkit-text-stroke:0.13px #444;">3.</span>
<span class="t" style="left:172.9px;top:470px;font-size:3.9px;color:#1c1c1c;-webkit-text-stroke:0.13px #1c1c1c;">tablets wit…</span>
<span class="t" style="left:206.77px;top:470px;font-size:3.9px;color:#1c1c1c;-webkit-text-stroke:0.13px #1c1c1c;">92.73%</span>
<span class="t" style="left:225.5px;top:470px;font-size:3.9px;color:#1c1c1c;-webkit-text-stroke:0.13px #1c1c1c;">15…</span>
<span class="t" style="left:254.76px;top:470px;font-size:3.9px;color:#1c1c1c;-webkit-text-stroke:0.13px #1c1c1c;">28</span>
<svg class="a" style="left:0;top:0" width="1080" height="1080"><path d="M163.9 457.6H261.7M163.9 467.05H261.7M163.9 476.5H261.7" stroke="#e4e4e4" stroke-width="0.6" fill="none"/></svg>
</div>
<span class="t" style="left:222.28px;top:532px;font-size:3.9px;color:#444;-webkit-text-stroke:0.13px #444;">1 - 3 / 3</span>
<svg class="a" style="left:243.1px;top:531.4px" width="3" height="4" viewBox="0 0 6 8"><path d="M5 0.5L1.2 4L5 7.5" fill="none" stroke="#b8b8b8" stroke-width="1.1"/></svg>
<svg class="a" style="left:255px;top:531.4px" width="3" height="4" viewBox="0 0 6 8"><path d="M1 0.5L4.8 4L1 7.5" fill="none" stroke="#b8b8b8" stroke-width="1.1"/></svg>
<div class="a tb" style="left:266.7px;top:438.9px;width:98.2px;height:98.9px;"></div>
<div class="a " style="left:266.7px;top:438.9px;width:98.2px;height:8px;background:#e2e2e2;"></div>
<span class="t b" style="left:275.7px;top:441px;font-size:4.55px;color:#1f1f1f;transform:scaleX(0.94);-webkit-text-stroke:0.14px #1f1f1f;">Day of …</span>
<span class="t b" style="left:302.1px;top:441px;font-size:4.55px;color:#1f1f1f;transform:scaleX(0.94);-webkit-text-stroke:0.14px #1f1f1f;">Impress…</span>
<span class="t b" style="left:328.3px;top:441px;font-size:4.55px;color:#1f1f1f;transform:scaleX(0.94);-webkit-text-stroke:0.14px #1f1f1f;">%…</span>
<span class="t b" style="left:341.5px;top:441px;font-size:4.55px;color:#1f1f1f;transform:scaleX(0.94);-webkit-text-stroke:0.14px #1f1f1f;">Impr…</span>
<svg class="a" style="left:358px;top:442.03px" width="2.2" height="1.38" viewBox="0 0 8 5"><path d="M0 0H8L4 5Z" fill="#444"/></svg>
<div class="a" style="left:0;top:0;width:1080px;height:1080px;clip-path:inset(446.9px 715.1px 542.2px 266.7px);">
<div class="a " style="left:299.2px;top:446.9px;width:26.2px;height:9.45px;background:#1379f1;"></div>
<div class="a " style="left:338.6px;top:446.9px;width:26.3px;height:9.45px;background:#06b4c6;"></div>
<span class="t" style="left:269.2px;top:450px;font-size:3.9px;color:#444;-webkit-text-stroke:0.13px #444;">1.</span>
<span class="t" style="left:275.7px;top:450px;font-size:3.9px;color:#1c1c1c;-webkit-text-stroke:0.13px #1c1c1c;">Friday</span>
<span class="t" style="left:309.57px;top:450px;font-size:3.9px;color:#1c1c1c;-webkit-text-stroke:0.13px #1c1c1c;">87.19%</span>
<span class="t" style="left:328.3px;top:450px;font-size:3.9px;color:#1c1c1c;-webkit-text-stroke:0.13px #1c1c1c;">3…</span>
<span class="t" style="left:355.79px;top:450px;font-size:3.9px;color:#1c1c1c;-webkit-text-stroke:0.13px #1c1c1c;">687</span>
<div class="a " style="left:299.2px;top:456.35px;width:26.2px;height:9.45px;background:#167af1;"></div>
<div class="a " style="left:338.6px;top:456.35px;width:26.3px;height:9.45px;background:#07b4c6;"></div>
<span class="t" style="left:269.2px;top:459px;font-size:3.9px;color:#444;-webkit-text-stroke:0.13px #444;">2.</span>
<span class="t" style="left:275.7px;top:459px;font-size:3.9px;color:#1c1c1c;-webkit-text-stroke:0.13px #1c1c1c;">Thursday</span>
<span class="t" style="left:309.57px;top:459px;font-size:3.9px;color:#1c1c1c;-webkit-text-stroke:0.13px #1c1c1c;">85.73%</span>
<span class="t" style="left:328.3px;top:459px;font-size:3.9px;color:#1c1c1c;-webkit-text-stroke:0.13px #1c1c1c;">3…</span>
<span class="t" style="left:355.79px;top:459px;font-size:3.9px;color:#1c1c1c;-webkit-text-stroke:0.13px #1c1c1c;">683</span>
<div class="a " style="left:299.2px;top:465.8px;width:26.2px;height:9.45px;background:#167af1;"></div>
<div class="a " style="left:338.6px;top:465.8px;width:26.3px;height:9.45px;background:#18b9ca;"></div>
<span class="t" style="left:269.2px;top:469px;font-size:3.9px;color:#444;-webkit-text-stroke:0.13px #444;">3.</span>
<span class="t" style="left:275.7px;top:469px;font-size:3.9px;color:#1c1c1c;-webkit-text-stroke:0.13px #1c1c1c;">Saturday</span>
<span class="t" style="left:309.57px;top:469px;font-size:3.9px;color:#1c1c1c;-webkit-text-stroke:0.13px #1c1c1c;">86.89%</span>
<span class="t" style="left:328.3px;top:469px;font-size:3.9px;color:#1c1c1c;-webkit-text-stroke:0.13px #1c1c1c;">-2…</span>
<span class="t" style="left:355.79px;top:469px;font-size:3.9px;color:#1c1c1c;-webkit-text-stroke:0.13px #1c1c1c;">621</span>
<div class="a " style="left:299.2px;top:475.25px;width:26.2px;height:9.45px;background:#0e76f1;"></div>
<div class="a " style="left:338.6px;top:475.25px;width:26.3px;height:9.45px;background:#19baca;"></div>
<span class="t" style="left:269.2px;top:478px;font-size:3.9px;color:#444;-webkit-text-stroke:0.13px #444;">4.</span>
<span class="t" style="left:275.7px;top:478px;font-size:3.9px;color:#1c1c1c;-webkit-text-stroke:0.13px #1c1c1c;">Wednesday</span>
<span class="t" style="left:309.57px;top:478px;font-size:3.9px;color:#1c1c1c;-webkit-text-stroke:0.13px #1c1c1c;">89.46%</span>
<span class="t" style="left:328.3px;top:478px;font-size:3.9px;color:#1c1c1c;-webkit-text-stroke:0.13px #1c1c1c;">3…</span>
<span class="t" style="left:355.79px;top:478px;font-size:3.9px;color:#1c1c1c;-webkit-text-stroke:0.13px #1c1c1c;">616</span>
<div class="a " style="left:299.2px;top:484.7px;width:26.2px;height:9.45px;background:#0470f0;"></div>
<div class="a " style="left:338.6px;top:484.7px;width:26.3px;height:9.45px;background:#35c2d1;"></div>
<span class="t" style="left:269.2px;top:487px;font-size:3.9px;color:#444;-webkit-text-stroke:0.13px #444;">5.</span>
<span class="t" style="left:275.7px;top:487px;font-size:3.9px;color:#1c1c1c;-webkit-text-stroke:0.13px #1c1c1c;">Monday</span>
<span class="t" style="left:309.57px;top:487px;font-size:3.9px;color:#1c1c1c;-webkit-text-stroke:0.13px #1c1c1c;">91.07%</span>
<span class="t" style="left:328.3px;top:487px;font-size:3.9px;color:#1c1c1c;-webkit-text-stroke:0.13px #1c1c1c;">5…</span>
<span class="t" style="left:355.79px;top:487px;font-size:3.9px;color:#1c1c1c;-webkit-text-stroke:0.13px #1c1c1c;">515</span>
<div class="a " style="left:299.2px;top:494.15px;width:26.2px;height:9.45px;background:#0973f0;"></div>
<div class="a " style="left:338.6px;top:494.15px;width:26.3px;height:9.45px;background:#39c3d2;"></div>
<span class="t" style="left:269.2px;top:497px;font-size:3.9px;color:#444;-webkit-text-stroke:0.13px #444;">6.</span>
<span class="t" style="left:275.7px;top:497px;font-size:3.9px;color:#1c1c1c;-webkit-text-stroke:0.13px #1c1c1c;">Tuesday</span>
<span class="t" style="left:309.57px;top:497px;font-size:3.9px;color:#1c1c1c;-webkit-text-stroke:0.13px #1c1c1c;">90.02%</span>
<span class="t" style="left:328.3px;top:497px;font-size:3.9px;color:#1c1c1c;-webkit-text-stroke:0.13px #1c1c1c;">6…</span>
<span class="t" style="left:355.79px;top:497px;font-size:3.9px;color:#1c1c1c;-webkit-text-stroke:0.13px #1c1c1c;">498</span>
<div class="a " style="left:299.2px;top:503.6px;width:26.2px;height:9.45px;background:#1177f1;"></div>
<div class="a " style="left:338.6px;top:503.6px;width:26.3px;height:9.45px;background:#3bc4d2;"></div>
<span class="t" style="left:269.2px;top:506px;font-size:3.9px;color:#444;-webkit-text-stroke:0.13px #444;">7.</span>
<span class="t" style="left:275.7px;top:506px;font-size:3.9px;color:#1c1c1c;-webkit-text-stroke:0.13px #1c1c1c;">Sunday</span>
<span class="t" style="left:309.57px;top:506px;font-size:3.9px;color:#1c1c1c;-webkit-text-stroke:0.13px #1c1c1c;">87.58%</span>
<span class="t" style="left:328.3px;top:506px;font-size:3.9px;color:#1c1c1c;-webkit-text-stroke:0.13px #1c1c1c;">-3…</span>
<span class="t" style="left:355.79px;top:506px;font-size:3.9px;color:#1c1c1c;-webkit-text-stroke:0.13px #1c1c1c;">493</span>
<svg class="a" style="left:0;top:0" width="1080" height="1080"><path d="M266.7 456.05H364.9M266.7 465.5H364.9M266.7 474.95H364.9M266.7 484.4H364.9M266.7 493.85H364.9M266.7 503.3H364.9M266.7 512.75H364.9" stroke="#e4e4e4" stroke-width="0.6" fill="none"/></svg>
</div>
<span class="t" style="left:325.48px;top:532px;font-size:3.9px;color:#444;-webkit-text-stroke:0.13px #444;">1 - 7 / 7</span>
<svg class="a" style="left:346.3px;top:531.4px" width="3" height="4" viewBox="0 0 6 8"><path d="M5 0.5L1.2 4L5 7.5" fill="none" stroke="#b8b8b8" stroke-width="1.1"/></svg>
<svg class="a" style="left:358.2px;top:531.4px" width="3" height="4" viewBox="0 0 6 8"><path d="M1 0.5L4.8 4L1 7.5" fill="none" stroke="#b8b8b8" stroke-width="1.1"/></svg>
<div class="a tb" style="left:369.7px;top:438.9px;width:84.8px;height:99.3px;"></div>
<div class="a " style="left:369.7px;top:438.9px;width:84.8px;height:8px;background:#e2e2e2;"></div>
<span class="t b" style="left:372.4px;top:441px;font-size:4.55px;color:#1f1f1f;transform:scaleX(0.94);-webkit-text-stroke:0.14px #1f1f1f;">City</span>
<span class="t b" style="left:396.7px;top:441px;font-size:4.55px;color:#1f1f1f;transform:scaleX(0.94);-webkit-text-stroke:0.14px #1f1f1f;">Impres…</span>
<span class="t b" style="left:421.1px;top:441px;font-size:4.55px;color:#1f1f1f;transform:scaleX(0.94);-webkit-text-stroke:0.14px #1f1f1f;">%…</span>
<span class="t b" style="left:433.3px;top:441px;font-size:4.55px;color:#1f1f1f;transform:scaleX(0.94);-webkit-text-stroke:0.14px #1f1f1f;">Impr…</span>
<svg class="a" style="left:448.6px;top:442.03px" width="2.2" height="1.38" viewBox="0 0 8 5"><path d="M0 0H8L4 5Z" fill="#444"/></svg>
<div class="a" style="left:0;top:0;width:1080px;height:1080px;clip-path:inset(446.9px 625.5px 551px 369.7px);">
<div class="a " style="left:394px;top:446.9px;width:24.4px;height:9.45px;background:#bbd8fb;"></div>
<div class="a " style="left:430.6px;top:446.9px;width:23.9px;height:9.45px;background:#06b4c6;"></div>
<span class="t" style="left:372.4px;top:450px;font-size:3.9px;color:#1c1c1c;-webkit-text-stroke:0.13px #1c1c1c;">Mumbai</span>
<span class="t" style="left:402.57px;top:450px;font-size:3.9px;color:#1c1c1c;-webkit-text-stroke:0.13px #1c1c1c;">93.28%</span>
<span class="t" style="left:421.1px;top:450px;font-size:3.9px;color:#1c1c1c;-webkit-text-stroke:0.13px #1c1c1c;">-3…</span>
<span class="t" style="left:445.39px;top:450px;font-size:3.9px;color:#1c1c1c;-webkit-text-stroke:0.13px #1c1c1c;">504</span>
<div class="a " style="left:394px;top:456.35px;width:24.4px;height:9.45px;background:#bbd8fb;"></div>
<div class="a " style="left:430.6px;top:456.35px;width:23.9px;height:9.45px;background:#83dae3;"></div>
<span class="t" style="left:372.4px;top:459px;font-size:3.9px;color:#1c1c1c;-webkit-text-stroke:0.13px #1c1c1c;">New Delhi</span>
<span class="t" style="left:402.57px;top:459px;font-size:3.9px;color:#1c1c1c;-webkit-text-stroke:0.13px #1c1c1c;">93.91%</span>
<span class="t" style="left:421.1px;top:459px;font-size:3.9px;color:#1c1c1c;-webkit-text-stroke:0.13px #1c1c1c;">1…</span>
<span class="t" style="left:445.39px;top:459px;font-size:3.9px;color:#1c1c1c;-webkit-text-stroke:0.13px #1c1c1c;">228</span>
<div class="a " style="left:394px;top:465.8px;width:24.4px;height:9.45px;background:#bbd8fb;"></div>
<div class="a " style="left:430.6px;top:465.8px;width:23.9px;height:9.45px;background:#8edde5;"></div>
<span class="t" style="left:372.4px;top:469px;font-size:3.9px;color:#1c1c1c;-webkit-text-stroke:0.13px #1c1c1c;">Delhi</span>
<span class="t" style="left:402.57px;top:469px;font-size:3.9px;color:#1c1c1c;-webkit-text-stroke:0.13px #1c1c1c;">93.42%</span>
<span class="t" style="left:421.1px;top:469px;font-size:3.9px;color:#1c1c1c;-webkit-text-stroke:0.13px #1c1c1c;">-3…</span>
<span class="t" style="left:445.39px;top:469px;font-size:3.9px;color:#1c1c1c;-webkit-text-stroke:0.13px #1c1c1c;">204</span>
<div class="a " style="left:394px;top:475.25px;width:24.4px;height:9.45px;background:#bbd8fb;"></div>
<div class="a " style="left:430.6px;top:475.25px;width:23.9px;height:9.45px;background:#a4e4ea;"></div>
<span class="t" style="left:372.4px;top:478px;font-size:3.9px;color:#1c1c1c;-webkit-text-stroke:0.13px #1c1c1c;">Bengaluru</span>
<span class="t" style="left:402.57px;top:478px;font-size:3.9px;color:#1c1c1c;-webkit-text-stroke:0.13px #1c1c1c;">93.66%</span>
<span class="t" style="left:421.1px;top:478px;font-size:3.9px;color:#1c1c1c;-webkit-text-stroke:0.13px #1c1c1c;">-2…</span>
<span class="t" style="left:445.39px;top:478px;font-size:3.9px;color:#1c1c1c;-webkit-text-stroke:0.13px #1c1c1c;">157</span>
<div class="a " style="left:394px;top:484.7px;width:24.4px;height:9.45px;background:#bbd8fb;"></div>
<div class="a " style="left:430.6px;top:484.7px;width:23.9px;height:9.45px;background:#a4e4ea;"></div>
<span class="t" style="left:372.4px;top:487px;font-size:3.9px;color:#1c1c1c;-webkit-text-stroke:0.13px #1c1c1c;">Noida</span>
<span class="t" style="left:402.57px;top:487px;font-size:3.9px;color:#1c1c1c;-webkit-text-stroke:0.13px #1c1c1c;">96.23%</span>
<span class="t" style="left:421.1px;top:487px;font-size:3.9px;color:#1c1c1c;-webkit-text-stroke:0.13px #1c1c1c;">0…</span>
<span class="t" style="left:445.39px;top:487px;font-size:3.9px;color:#1c1c1c;-webkit-text-stroke:0.13px #1c1c1c;">156</span>
<div class="a " style="left:394px;top:494.15px;width:24.4px;height:9.45px;background:#bbd8fb;"></div>
<div class="a " style="left:430.6px;top:494.15px;width:23.9px;height:9.45px;background:#b2e8ed;"></div>
<span class="t" style="left:372.4px;top:497px;font-size:3.9px;color:#1c1c1c;-webkit-text-stroke:0.13px #1c1c1c;">Gurugram</span>
<span class="t" style="left:405.83px;top:497px;font-size:3.9px;color:#1c1c1c;-webkit-text-stroke:0.13px #1c1c1c;">100%</span>
<span class="t" style="left:421.1px;top:497px;font-size:3.9px;color:#1c1c1c;-webkit-text-stroke:0.13px #1c1c1c;">7…</span>
<span class="t" style="left:445.39px;top:497px;font-size:3.9px;color:#1c1c1c;-webkit-text-stroke:0.13px #1c1c1c;">126</span>
<div class="a " style="left:394px;top:503.6px;width:24.4px;height:9.45px;background:#bbd8fb;"></div>
<div class="a " style="left:430.6px;top:503.6px;width:23.9px;height:9.45px;background:#baeaef;"></div>
<span class="t" style="left:372.4px;top:506px;font-size:3.9px;color:#1c1c1c;-webkit-text-stroke:0.13px #1c1c1c;">Dubai</span>
<span class="t" style="left:402.57px;top:506px;font-size:3.9px;color:#1c1c1c;-webkit-text-stroke:0.13px #1c1c1c;">85.23%</span>
<span class="t" style="left:421.1px;top:506px;font-size:3.9px;color:#1c1c1c;-webkit-text-stroke:0.13px #1c1c1c;">-1…</span>
<span class="t" style="left:445.39px;top:506px;font-size:3.9px;color:#1c1c1c;-webkit-text-stroke:0.13px #1c1c1c;">107</span>
<div class="a " style="left:394px;top:513.05px;width:24.4px;height:9.45px;background:#bbd8fb;"></div>
<div class="a " style="left:430.6px;top:513.05px;width:23.9px;height:9.45px;background:#bcebf0;"></div>
<span class="t" style="left:372.4px;top:516px;font-size:3.9px;color:#1c1c1c;-webkit-text-stroke:0.13px #1c1c1c;">London</span>
<span class="t" style="left:402.57px;top:516px;font-size:3.9px;color:#1c1c1c;-webkit-text-stroke:0.13px #1c1c1c;">84.15%</span>
<span class="t" style="left:421.1px;top:516px;font-size:3.9px;color:#1c1c1c;-webkit-text-stroke:0.13px #1c1c1c;">-7…</span>
<span class="t" style="left:445.39px;top:516px;font-size:3.9px;color:#1c1c1c;-webkit-text-stroke:0.13px #1c1c1c;">103</span>
<div class="a " style="left:394px;top:522.5px;width:24.4px;height:9.45px;background:#bbd8fb;"></div>
<div class="a " style="left:430.6px;top:522.5px;width:23.9px;height:9.45px;background:#c9eff3;"></div>
<span class="t" style="left:372.4px;top:525px;font-size:3.9px;color:#1c1c1c;-webkit-text-stroke:0.13px #1c1c1c;">Surat</span>
<span class="t" style="left:407.99px;top:525px;font-size:3.9px;color:#1c1c1c;-webkit-text-stroke:0.13px #1c1c1c;">98%</span>
<span class="t" style="left:421.1px;top:525px;font-size:3.9px;color:#1c1c1c;-webkit-text-stroke:0.13px #1c1c1c;">2…</span>
<span class="t" style="left:447.56px;top:525px;font-size:3.9px;color:#1c1c1c;-webkit-text-stroke:0.13px #1c1c1c;">75</span>
<svg class="a" style="left:0;top:0" width="1080" height="1080"><path d="M369.7 456.05H454.5M369.7 465.5H454.5M369.7 474.95H454.5M369.7 484.4H454.5M369.7 493.85H454.5M369.7 503.3H454.5M369.7 512.75H454.5M369.7 522.2H454.5M369.7 531.65H454.5" stroke="#e4e4e4" stroke-width="0.6" fill="none"/></svg>
</div>
<span class="t" style="left:406.9px;top:532px;font-size:3.9px;color:#444;-webkit-text-stroke:0.13px #444;">1 - 100 / 495</span>
<svg class="a" style="left:436.4px;top:531.8px" width="3" height="4" viewBox="0 0 6 8"><path d="M5 0.5L1.2 4L5 7.5" fill="none" stroke="#b8b8b8" stroke-width="1.1"/></svg>
<svg class="a" style="left:448.2px;top:531.8px" width="3" height="4" viewBox="0 0 6 8"><path d="M1 0.5L4.8 4L1 7.5" fill="none" stroke="#222" stroke-width="1.9"/></svg>
<div class="a " style="left:56.2px;top:551.8px;width:398px;height:143.1px;background:#fff;"></div>
<span class="t" style="left:64.3px;top:555px;font-size:8.96px;color:#1e1e1e;-webkit-text-stroke:0.12px #1e1e1e;">Detailed metrics map / connected metrics</span>
<div class="a " style="left:192.3px;top:591.6px;width:49.7px;height:31.6px;background:#fff;box-shadow:0 0.65px 1.15px rgba(0,0,0,.26),0 0 0.86px rgba(0,0,0,.10);"></div>
<span class="t" style="left:200.8px;top:594px;font-size:3.9px;color:#555;">CTR</span>
<span class="t" style="left:200.8px;top:600px;font-size:8.64px;color:#1e1e1e;-webkit-text-stroke:0.15px #1e1e1e;">23.80%</span>
<div class="a " style="left:219.6px;top:612px;width:18.9px;height:7.5px;background:#dfdfdf;"></div>
<span class="t" style="left:223.48px;top:614px;font-size:4.55px;color:#222;-webkit-text-stroke:0.12px #222;">Open</span>
<div class="a " style="left:192px;top:648px;width:50px;height:34px;background:#fff;box-shadow:inset 0 0 0 1px #959595,0 0.43px 0.58px rgba(0,0,0,.18);"></div>
<span class="t" style="left:200.8px;top:653px;font-size:4.49px;color:#555;">Impression (Top) %</span>
<span class="t" style="left:200.8px;top:659px;font-size:8.7px;color:#1e1e1e;-webkit-text-stroke:0.15px #1e1e1e;">88.04%</span>
<div class="a " style="left:270.4px;top:648.5px;width:49.3px;height:32.8px;background:#fff;box-shadow:0 0.65px 1.15px rgba(0,0,0,.26),0 0 0.86px rgba(0,0,0,.10);"></div>
<span class="t" style="left:278px;top:653px;font-size:4.54px;color:#555;">Impression (Absolute Top) %</span>
<span class="t" style="left:278px;top:659px;font-size:8.73px;color:#1e1e1e;-webkit-text-stroke:0.15px #1e1e1e;">85.94%</span>
<div class="a " style="left:299.4px;top:670.9px;width:19.9px;height:8.3px;background:#dfdfdf;"></div>
<span class="t" style="left:303.78px;top:674px;font-size:4.55px;color:#222;-webkit-text-stroke:0.12px #222;">Open</span>
<svg class="a" style="left:0;top:0" width="1080" height="1080"><path d="M217.5 648.5V625.84" stroke="#5fae66" stroke-width="0.85"/><path d="M217.5 624.4L216.28 627.57H218.72Z" fill="#3d8f45"/></svg>
<svg class="a" style="left:0;top:0" width="1080" height="1080"><path d="M270.4 665.45H244.24" stroke="#5fae66" stroke-width="0.85"/><path d="M242.8 665.45L245.97 664.23V666.67Z" fill="#3d8f45"/></svg>
<div class="a " style="left:498px;top:198px;width:555.3px;height:340px;background:#efefef;"></div>
<div class="a " style="left:498px;top:538px;width:551px;height:180.5px;background:#efefef;"></div>
<div class="a " style="left:497.8px;top:108px;width:555.5px;height:89.9px;background:#fff;"></div>
<div class="a " style="left:522.8px;top:113.3px;width:21.6px;height:24.7px;background:#fff;box-shadow:0 0.9px 1.35px rgba(0,0,0,.3),0 0 0 0.54px rgba(0,0,0,.12);border-radius:1.08px;"></div>
<svg class="a" style="left:530.4px;top:122.45px" width="6.4" height="6.4" viewBox="0 0 8 8"><path d="M6.3 0.6L1.6 4L6.3 7.4" fill="none" stroke="#828282" stroke-width="1.25"/></svg>
<span class="t" style="left:551.7px;top:120px;font-size:12.74px;color:#1e1e1e;-webkit-text-stroke:0.25px #1e1e1e;">Impressions (Absolute Top) %</span>
<div class="a " style="left:511.9px;top:154.2px;width:121.4px;height:23.6px;background:#fff;box-shadow:0 0.9px 1.8px rgba(0,0,0,.22),0 0 1.8px rgba(0,0,0,.10);border-radius:1px;"></div>
<span class="t" style="left:522.2px;top:163px;font-size:6.5px;color:#333;">Campaign type</span>
<svg class="a" style="left:619.5px;top:165.04px" width="3.2" height="2" viewBox="0 0 8 5"><path d="M0 0H8L4 5Z" fill="#333"/></svg>
<div class="a " style="left:643.7px;top:154.2px;width:121.9px;height:23.6px;background:#fff;box-shadow:0 0.9px 1.8px rgba(0,0,0,.22),0 0 1.8px rgba(0,0,0,.10);border-radius:1px;"></div>
<span class="t" style="left:654.3px;top:163px;font-size:6.5px;color:#333;">Campaign</span>
<svg class="a" style="left:751.7px;top:165.04px" width="3.2" height="2" viewBox="0 0 8 5"><path d="M0 0H8L4 5Z" fill="#333"/></svg>
<div class="a " style="left:775.6px;top:154.2px;width:122.2px;height:23.6px;background:#fff;box-shadow:0 0.9px 1.8px rgba(0,0,0,.22),0 0 1.8px rgba(0,0,0,.10);border-radius:1px;"></div>
<span class="t" style="left:786.7px;top:163px;font-size:6.5px;color:#333;">Device</span>
<svg class="a" style="left:883.7px;top:165.04px" width="3.2" height="2" viewBox="0 0 8 5"><path d="M0 0H8L4 5Z" fill="#333"/></svg>
<div class="a " style="left:907.5px;top:154.2px;width:122.8px;height:23.6px;background:#fff;box-shadow:0 0.9px 1.8px rgba(0,0,0,.22),0 0 1.8px rgba(0,0,0,.10);border-radius:1px;"></div>
<span class="t" style="left:920.8px;top:163px;font-size:6.5px;color:#333;">30 Aug 2025 - 12 Sept 2025</span>
<svg class="a" style="left:1011.4px;top:165.04px" width="3.2" height="2" viewBox="0 0 8 5"><path d="M0 0H8L4 5Z" fill="#333"/></svg>
<div class="a " style="left:511.8px;top:229.5px;width:512px;height:136.8px;background:#fff;"></div>
<svg class="a" style="left:0;top:0" width="1080" height="1080" viewBox="0 0 1080 1080"><path d="M534.5 252.5H1013.29" stroke="#e4e4e4" stroke-width="0.8"/><path d="M534.5 263.81H1013.29" stroke="#e4e4e4" stroke-width="0.8"/><path d="M534.5 275.12H1013.29" stroke="#e4e4e4" stroke-width="0.8"/><path d="M534.5 286.44H1013.29" stroke="#e4e4e4" stroke-width="0.8"/><path d="M534.5 297.75H1013.29" stroke="#e4e4e4" stroke-width="0.8"/><path d="M534.5 309.06H1013.29" stroke="#e4e4e4" stroke-width="0.8"/><path d="M534.5 320.38H1013.29" stroke="#e4e4e4" stroke-width="0.8"/><path d="M534.5 331.69H1013.29" stroke="#e4e4e4" stroke-width="0.8"/><path d="M534.5 343H1013.29" stroke="#e4e4e4" stroke-width="0.8"/><path d="M534.5 252.5V345.5" stroke="#e4e4e4" stroke-width="0.8"/><path d="M571.33 252.5V345.5" stroke="#e4e4e4" stroke-width="0.8"/><path d="M608.16 252.5V345.5" stroke="#e4e4e4" stroke-width="0.8"/><path d="M644.99 252.5V345.5" stroke="#e4e4e4" stroke-width="0.8"/><path d="M681.82 252.5V345.5" stroke="#e4e4e4" stroke-width="0.8"/><path d="M718.65 252.5V345.5" stroke="#e4e4e4" stroke-width="0.8"/><path d="M755.48 252.5V345.5" stroke="#e4e4e4" stroke-width="0.8"/><path d="M792.31 252.5V345.5" stroke="#e4e4e4" stroke-width="0.8"/><path d="M829.14 252.5V345.5" stroke="#e4e4e4" stroke-width="0.8"/><path d="M865.97 252.5V345.5" stroke="#e4e4e4" stroke-width="0.8"/><path d="M902.8 252.5V345.5" stroke="#e4e4e4" stroke-width="0.8"/><path d="M939.63 252.5V345.5" stroke="#e4e4e4" stroke-width="0.8"/><path d="M976.46 252.5V345.5" stroke="#e4e4e4" stroke-width="0.8"/><path d="M1013.29 252.5V345.5" stroke="#e4e4e4" stroke-width="0.8"/><path d="M534.5 252.5V345.5" stroke="#6e6e6e" stroke-width="1.3"/><polyline points="534.5,271 571.33,278 608.16,301.3 644.99,310.5 681.82,270.5 718.65,331.8 755.48,301 792.31,299 829.14,304.5 865.97,308.3 902.8,316.3 939.63,323 976.46,301.3 1013.29,317.5" fill="none" stroke="#a9c9f0" stroke-width="1.1" stroke-linejoin="round" stroke-linecap="round"/><polyline points="534.5,324.3 571.33,312 608.16,292.5 644.99,286.3 681.82,298 718.65,315 755.48,303.5 792.31,283.3 829.14,284 865.97,266 902.8,287.5 939.63,285.3 976.46,287.5 1013.29,292" fill="none" stroke="#2278dc" stroke-width="1.3" stroke-linejoin="round" stroke-linecap="round"/><path d="M534.3 243H546.8" stroke="#2278dc" stroke-width="1.3"/><path d="M641.3 243H653.8" stroke="#a9c9f0" stroke-width="1.1"/></svg>
<span class="t" style="left:550px;top:240px;font-size:6.33px;color:#222;-webkit-text-stroke:0.1px #222;">Impression (Absolute Top) %</span>
<span class="t" style="left:657px;top:240px;font-size:6.35px;color:#222;-webkit-text-stroke:0.1px #222;">Impression (Absolute Top) % (previous 14 days)</span>
<span class="t" style="left:519.1px;top:250px;font-size:5.15px;color:#222;transform:scaleX(0.93);-webkit-text-stroke:0.1px #222;">95%</span>
<span class="t" style="left:519.1px;top:273px;font-size:5.15px;color:#222;transform:scaleX(0.93);-webkit-text-stroke:0.1px #222;">90%</span>
<span class="t" style="left:519.1px;top:296px;font-size:5.15px;color:#222;transform:scaleX(0.93);-webkit-text-stroke:0.1px #222;">85%</span>
<span class="t" style="left:519.1px;top:318px;font-size:5.15px;color:#222;transform:scaleX(0.93);-webkit-text-stroke:0.1px #222;">80%</span>
<span class="t" style="left:519.1px;top:341px;font-size:5.15px;color:#222;transform:scaleX(0.93);-webkit-text-stroke:0.1px #222;">75%</span>
<span class="t" style="left:526.48px;top:348px;font-size:5.15px;color:#222;-webkit-text-stroke:0.1px #222;">30 Aug</span>
<span class="t" style="left:563.31px;top:348px;font-size:5.15px;color:#222;-webkit-text-stroke:0.1px #222;">31 Aug</span>
<span class="t" style="left:600.72px;top:348px;font-size:5.15px;color:#222;-webkit-text-stroke:0.1px #222;">1 Sept</span>
<span class="t" style="left:637.55px;top:348px;font-size:5.15px;color:#222;-webkit-text-stroke:0.1px #222;">2 Sept</span>
<span class="t" style="left:674.38px;top:348px;font-size:5.15px;color:#222;-webkit-text-stroke:0.1px #222;">3 Sept</span>
<span class="t" style="left:711.21px;top:348px;font-size:5.15px;color:#222;-webkit-text-stroke:0.1px #222;">4 Sept</span>
<span class="t" style="left:748.04px;top:348px;font-size:5.15px;color:#222;-webkit-text-stroke:0.1px #222;">5 Sept</span>
<span class="t" style="left:784.87px;top:348px;font-size:5.15px;color:#222;-webkit-text-stroke:0.1px #222;">6 Sept</span>
<span class="t" style="left:821.7px;top:348px;font-size:5.15px;color:#222;-webkit-text-stroke:0.1px #222;">7 Sept</span>
<span class="t" style="left:858.53px;top:348px;font-size:5.15px;color:#222;-webkit-text-stroke:0.1px #222;">8 Sept</span>
<span class="t" style="left:895.36px;top:348px;font-size:5.15px;color:#222;-webkit-text-stroke:0.1px #222;">9 Sept</span>
<span class="t" style="left:930.75px;top:348px;font-size:5.15px;color:#222;-webkit-text-stroke:0.1px #222;">10 Sept</span>
<span class="t" style="left:967.77px;top:348px;font-size:5.15px;color:#222;-webkit-text-stroke:0.1px #222;">11 Sept</span>
<span class="t" style="left:1004.41px;top:348px;font-size:5.15px;color:#222;-webkit-text-stroke:0.1px #222;">12 Sept</span>
<span class="t b" style="left:509.2px;top:380px;font-size:7.2px;color:#1c1c1c;transform:scaleX(0.94);-webkit-text-stroke:0.18px #1c1c1c;">By Campaign</span>
<span class="t b" style="left:769.9px;top:380px;font-size:7.2px;color:#1c1c1c;transform:scaleX(0.94);-webkit-text-stroke:0.18px #1c1c1c;">By Ad Group</span>
<div class="a tb" style="left:505.3px;top:392.4px;width:253.7px;height:137.5px;"></div>
<div class="a " style="left:505.3px;top:392.4px;width:253.7px;height:11.9px;background:#e2e2e2;"></div>
<span class="t b" style="left:509.3px;top:395px;font-size:6.3px;color:#1f1f1f;transform:scaleX(0.94);-webkit-text-stroke:0.16px #1f1f1f;">Campaign</span>
<span class="t b" style="left:627.65px;top:395px;font-size:6.3px;color:#1f1f1f;transform:scaleX(0.94);-webkit-text-stroke:0.16px #1f1f1f;">Impression (…</span>
<span class="t b" style="left:682.93px;top:395px;font-size:6.3px;color:#1f1f1f;transform:scaleX(0.94);-webkit-text-stroke:0.16px #1f1f1f;">Impressions</span>
<svg class="a" style="left:722px;top:397.11px" width="3" height="1.88" viewBox="0 0 8 5"><path d="M0 0H8L4 5Z" fill="#444"/></svg>
<span class="t b" style="left:743.69px;top:395px;font-size:6.3px;color:#1f1f1f;transform:scaleX(0.94);-webkit-text-stroke:0.16px #1f1f1f;">% Δ</span>
<div class="a" style="left:0;top:0;width:1080px;height:1080px;clip-path:inset(404.3px 321px 563.4px 505.3px);">
<div class="a " style="left:625px;top:404.3px;width:50px;height:13.19px;background:#0470f0;"></div>
<div class="a " style="left:675px;top:404.3px;width:56px;height:13.19px;background:#06b4c6;"></div>
<span class="t" style="left:509.3px;top:408px;font-size:5.4px;color:#1c1c1c;-webkit-text-stroke:0.14px #1c1c1c;">brand_search_ad</span>
<span class="t" style="left:652.69px;top:408px;font-size:5.4px;color:#1c1c1c;-webkit-text-stroke:0.14px #1c1c1c;">92.65%</span>
<span class="t" style="left:713.49px;top:408px;font-size:5.4px;color:#1c1c1c;-webkit-text-stroke:0.14px #1c1c1c;">2,641</span>
<span class="t" style="left:735.49px;top:408px;font-size:5.4px;color:#1c1c1c;-webkit-text-stroke:0.14px #1c1c1c;">38.1% ↑</span>
<div class="a " style="left:625px;top:417.49px;width:50px;height:13.19px;background:#2c87f2;"></div>
<div class="a " style="left:675px;top:417.49px;width:56px;height:13.19px;background:#6ad2dd;"></div>
<span class="t" style="left:509.3px;top:421px;font-size:5.4px;color:#1c1c1c;-webkit-text-stroke:0.14px #1c1c1c;">brand_search_ad intl</span>
<span class="t" style="left:652.69px;top:421px;font-size:5.4px;color:#1c1c1c;-webkit-text-stroke:0.14px #1c1c1c;">75.47%</span>
<span class="t" style="left:713.49px;top:421px;font-size:5.4px;color:#1c1c1c;-webkit-text-stroke:0.14px #1c1c1c;">1,472</span>
<span class="t" style="left:738.49px;top:421px;font-size:5.4px;color:#1c1c1c;-webkit-text-stroke:0.14px #1c1c1c;">3.8% ↑</span>
<div class="a " style="left:625px;top:430.68px;width:50px;height:13.19px;background:#f1f7fe;"></div>
<div class="a " style="left:675px;top:430.68px;width:56px;height:13.19px;background:#f3fbfc;"></div>
<span class="t" style="left:509.3px;top:435px;font-size:5.4px;color:#1c1c1c;-webkit-text-stroke:0.14px #1c1c1c;">Remarketing_India | Sample sale</span>
<span class="t" style="left:663.2px;top:435px;font-size:5.4px;color:#1c1c1c;-webkit-text-stroke:0.14px #1c1c1c;">0%</span>
<span class="t" style="left:724px;top:435px;font-size:5.4px;color:#1c1c1c;-webkit-text-stroke:0.14px #1c1c1c;">0</span>
<span class="t" style="left:753.2px;top:435px;font-size:5.4px;color:#888;-webkit-text-stroke:0.14px #888;">-</span>
<div class="a " style="left:625px;top:443.87px;width:50px;height:13.19px;background:#f1f7fe;"></div>
<div class="a " style="left:675px;top:443.87px;width:56px;height:13.19px;background:#f3fbfc;"></div>
<span class="t" style="left:509.3px;top:448px;font-size:5.4px;color:#1c1c1c;-webkit-text-stroke:0.14px #1c1c1c;">DI_gl_tof_int</span>
<span class="t" style="left:663.2px;top:448px;font-size:5.4px;color:#1c1c1c;-webkit-text-stroke:0.14px #1c1c1c;">0%</span>
<span class="t" style="left:724px;top:448px;font-size:5.4px;color:#1c1c1c;-webkit-text-stroke:0.14px #1c1c1c;">0</span>
<span class="t" style="left:753.2px;top:448px;font-size:5.4px;color:#888;-webkit-text-stroke:0.14px #888;">-</span>
<div class="a " style="left:625px;top:457.06px;width:50px;height:13.19px;background:#f1f7fe;"></div>
<div class="a " style="left:675px;top:457.06px;width:56px;height:13.19px;background:#f3fbfc;"></div>
<span class="t" style="left:509.3px;top:461px;font-size:5.4px;color:#1c1c1c;-webkit-text-stroke:0.14px #1c1c1c;">Display- Summer Sale-June-Ind</span>
<span class="t" style="left:663.2px;top:461px;font-size:5.4px;color:#1c1c1c;-webkit-text-stroke:0.14px #1c1c1c;">0%</span>
<span class="t" style="left:724px;top:461px;font-size:5.4px;color:#1c1c1c;-webkit-text-stroke:0.14px #1c1c1c;">0</span>
<span class="t" style="left:753.2px;top:461px;font-size:5.4px;color:#888;-webkit-text-stroke:0.14px #888;">-</span>
<div class="a " style="left:625px;top:470.25px;width:50px;height:13.19px;background:#f1f7fe;"></div>
<div class="a " style="left:675px;top:470.25px;width:56px;height:13.19px;background:#f3fbfc;"></div>
<span class="t" style="left:509.3px;top:474px;font-size:5.4px;color:#1c1c1c;-webkit-text-stroke:0.14px #1c1c1c;">EOSS_MarketPlace</span>
<span class="t" style="left:663.2px;top:474px;font-size:5.4px;color:#1c1c1c;-webkit-text-stroke:0.14px #1c1c1c;">0%</span>
<span class="t" style="left:724px;top:474px;font-size:5.4px;color:#1c1c1c;-webkit-text-stroke:0.14px #1c1c1c;">0</span>
<span class="t" style="left:753.2px;top:474px;font-size:5.4px;color:#888;-webkit-text-stroke:0.14px #888;">-</span>
<div class="a " style="left:625px;top:483.44px;width:50px;height:13.19px;background:#f1f7fe;"></div>
<div class="a " style="left:675px;top:483.44px;width:56px;height:13.19px;background:#f3fbfc;"></div>
<span class="t" style="left:509.3px;top:487px;font-size:5.4px;color:#1c1c1c;-webkit-text-stroke:0.14px #1c1c1c;">Generic Search_ India _ 9 July 24</span>
<span class="t" style="left:663.2px;top:487px;font-size:5.4px;color:#1c1c1c;-webkit-text-stroke:0.14px #1c1c1c;">0%</span>
<span class="t" style="left:724px;top:487px;font-size:5.4px;color:#1c1c1c;-webkit-text-stroke:0.14px #1c1c1c;">0</span>
<span class="t" style="left:753.2px;top:487px;font-size:5.4px;color:#888;-webkit-text-stroke:0.14px #888;">-</span>
<div class="a " style="left:625px;top:496.63px;width:50px;height:13.19px;background:#f1f7fe;"></div>
<div class="a " style="left:675px;top:496.63px;width:56px;height:13.19px;background:#f3fbfc;"></div>
<span class="t" style="left:509.3px;top:501px;font-size:5.4px;color:#1c1c1c;-webkit-text-stroke:0.14px #1c1c1c;">India Ethnic Brands - Pmax</span>
<span class="t" style="left:663.2px;top:501px;font-size:5.4px;color:#1c1c1c;-webkit-text-stroke:0.14px #1c1c1c;">0%</span>
<span class="t" style="left:724px;top:501px;font-size:5.4px;color:#1c1c1c;-webkit-text-stroke:0.14px #1c1c1c;">0</span>
<span class="t" style="left:753.2px;top:501px;font-size:5.4px;color:#888;-webkit-text-stroke:0.14px #888;">-</span>
<div class="a " style="left:625px;top:509.82px;width:50px;height:13.19px;background:#f1f7fe;"></div>
<div class="a " style="left:675px;top:509.82px;width:56px;height:13.19px;background:#f3fbfc;"></div>
<span class="t" style="left:509.3px;top:514px;font-size:5.4px;color:#1c1c1c;-webkit-text-stroke:0.14px #1c1c1c;">India Ethnic Brands - Pmax #2</span>
<span class="t" style="left:663.2px;top:514px;font-size:5.4px;color:#1c1c1c;-webkit-text-stroke:0.14px #1c1c1c;">0%</span>
<span class="t" style="left:724px;top:514px;font-size:5.4px;color:#1c1c1c;-webkit-text-stroke:0.14px #1c1c1c;">0</span>
<span class="t" style="left:753.2px;top:514px;font-size:5.4px;color:#888;-webkit-text-stroke:0.14px #888;">-</span>
<svg class="a" style="left:0;top:0" width="1080" height="1080"><path d="M505.3 417.09H759M505.3 430.28H759M505.3 443.47H759M505.3 456.66H759M505.3 469.85H759M505.3 483.04H759M505.3 496.23H759M505.3 509.42H759M505.3 522.61H759" stroke="#dedede" stroke-width="0.8" fill="none"/></svg>
</div>
<span class="t" style="left:698.83px;top:522px;font-size:5.3px;color:#444;-webkit-text-stroke:0.14px #444;">1 - 27 / 27</span>
<svg class="a" style="left:733.14px;top:521.15px" width="4.12" height="5.5" viewBox="0 0 6 8"><path d="M5 0.5L1.2 4L5 7.5" fill="none" stroke="#b8b8b8" stroke-width="1.1"/></svg>
<svg class="a" style="left:749.44px;top:521.15px" width="4.12" height="5.5" viewBox="0 0 6 8"><path d="M1 0.5L4.8 4L1 7.5" fill="none" stroke="#b8b8b8" stroke-width="1.1"/></svg>
<div class="a tb" style="left:765.2px;top:392.4px;width:258.8px;height:137.5px;"></div>
<div class="a " style="left:765.2px;top:392.4px;width:258.8px;height:11.9px;background:#e2e2e2;"></div>
<span class="t b" style="left:769.2px;top:395px;font-size:6.3px;color:#1f1f1f;transform:scaleX(0.94);-webkit-text-stroke:0.16px #1f1f1f;">Ad group</span>
<span class="t b" style="left:861.45px;top:395px;font-size:6.3px;color:#1f1f1f;transform:scaleX(0.94);-webkit-text-stroke:0.16px #1f1f1f;">Impression (…</span>
<svg class="a" style="left:910px;top:397.11px" width="3" height="1.88" viewBox="0 0 8 5"><path d="M0 0H8L4 5Z" fill="#444"/></svg>
<span class="t b" style="left:933.83px;top:395px;font-size:6.3px;color:#1f1f1f;transform:scaleX(0.94);-webkit-text-stroke:0.16px #1f1f1f;">Impressions</span>
<span class="t b" style="left:1008.29px;top:395px;font-size:6.3px;color:#1f1f1f;transform:scaleX(0.94);-webkit-text-stroke:0.16px #1f1f1f;">% Δ</span>
<div class="a" style="left:0;top:0;width:1080px;height:1080px;clip-path:inset(404.3px 56px 563.4px 765.2px);">
<div class="a " style="left:919.3px;top:404.3px;width:53.9px;height:13.19px;background:#06b4c6;"></div>
<span class="t" style="left:769.2px;top:408px;font-size:5.4px;color:#1c1c1c;-webkit-text-stroke:0.14px #1c1c1c;">brand_search</span>
<span class="t" style="left:896.99px;top:408px;font-size:5.4px;color:#1c1c1c;-webkit-text-stroke:0.14px #1c1c1c;">92.65%</span>
<span class="t" style="left:955.69px;top:408px;font-size:5.4px;color:#1c1c1c;-webkit-text-stroke:0.14px #1c1c1c;">2,641</span>
<span class="t" style="left:1000.49px;top:408px;font-size:5.4px;color:#1c1c1c;-webkit-text-stroke:0.14px #1c1c1c;">38.1% ↑</span>
<div class="a " style="left:919.3px;top:417.49px;width:53.9px;height:13.19px;background:#6ad2dd;"></div>
<span class="t" style="left:769.2px;top:421px;font-size:5.4px;color:#1c1c1c;-webkit-text-stroke:0.14px #1c1c1c;">brand_search_int</span>
<span class="t" style="left:896.99px;top:421px;font-size:5.4px;color:#1c1c1c;-webkit-text-stroke:0.14px #1c1c1c;">75.47%</span>
<span class="t" style="left:955.69px;top:421px;font-size:5.4px;color:#1c1c1c;-webkit-text-stroke:0.14px #1c1c1c;">1,472</span>
<span class="t" style="left:1003.49px;top:421px;font-size:5.4px;color:#1c1c1c;-webkit-text-stroke:0.14px #1c1c1c;">3.8% ↑</span>
<div class="a " style="left:919.3px;top:430.68px;width:53.9px;height:13.19px;background:#f3fbfc;"></div>
<span class="t" style="left:769.2px;top:435px;font-size:5.4px;color:#1c1c1c;-webkit-text-stroke:0.14px #1c1c1c;">Ad group 1</span>
<span class="t" style="left:907.5px;top:435px;font-size:5.4px;color:#1c1c1c;-webkit-text-stroke:0.14px #1c1c1c;">0%</span>
<span class="t" style="left:966.2px;top:435px;font-size:5.4px;color:#1c1c1c;-webkit-text-stroke:0.14px #1c1c1c;">0</span>
<span class="t" style="left:1018.2px;top:435px;font-size:5.4px;color:#888;-webkit-text-stroke:0.14px #888;">-</span>
<div class="a " style="left:919.3px;top:443.87px;width:53.9px;height:13.19px;background:#f3fbfc;"></div>
<span class="t" style="left:769.2px;top:448px;font-size:5.4px;color:#1c1c1c;-webkit-text-stroke:0.14px #1c1c1c;">Canada - Shopping Ads</span>
<span class="t" style="left:907.5px;top:448px;font-size:5.4px;color:#1c1c1c;-webkit-text-stroke:0.14px #1c1c1c;">0%</span>
<span class="t" style="left:966.2px;top:448px;font-size:5.4px;color:#1c1c1c;-webkit-text-stroke:0.14px #1c1c1c;">0</span>
<span class="t" style="left:1018.2px;top:448px;font-size:5.4px;color:#888;-webkit-text-stroke:0.14px #888;">-</span>
<div class="a " style="left:919.3px;top:457.06px;width:53.9px;height:13.19px;background:#f3fbfc;"></div>
<span class="t" style="left:769.2px;top:461px;font-size:5.4px;color:#1c1c1c;-webkit-text-stroke:0.14px #1c1c1c;">Men</span>
<span class="t" style="left:907.5px;top:461px;font-size:5.4px;color:#1c1c1c;-webkit-text-stroke:0.14px #1c1c1c;">0%</span>
<span class="t" style="left:966.2px;top:461px;font-size:5.4px;color:#1c1c1c;-webkit-text-stroke:0.14px #1c1c1c;">0</span>
<span class="t" style="left:1018.2px;top:461px;font-size:5.4px;color:#888;-webkit-text-stroke:0.14px #888;">-</span>
<div class="a " style="left:919.3px;top:470.25px;width:53.9px;height:13.19px;background:#f3fbfc;"></div>
<span class="t" style="left:769.2px;top:474px;font-size:5.4px;color:#1c1c1c;-webkit-text-stroke:0.14px #1c1c1c;">USA -</span>
<span class="t" style="left:907.5px;top:474px;font-size:5.4px;color:#1c1c1c;-webkit-text-stroke:0.14px #1c1c1c;">0%</span>
<span class="t" style="left:966.2px;top:474px;font-size:5.4px;color:#1c1c1c;-webkit-text-stroke:0.14px #1c1c1c;">0</span>
<span class="t" style="left:1018.2px;top:474px;font-size:5.4px;color:#888;-webkit-text-stroke:0.14px #888;">-</span>
<div class="a " style="left:919.3px;top:483.44px;width:53.9px;height:13.19px;background:#f3fbfc;"></div>
<span class="t" style="left:769.2px;top:487px;font-size:5.4px;color:#1c1c1c;-webkit-text-stroke:0.14px #1c1c1c;">Women</span>
<span class="t" style="left:907.5px;top:487px;font-size:5.4px;color:#1c1c1c;-webkit-text-stroke:0.14px #1c1c1c;">0%</span>
<span class="t" style="left:966.2px;top:487px;font-size:5.4px;color:#1c1c1c;-webkit-text-stroke:0.14px #1c1c1c;">0</span>
<span class="t" style="left:1018.2px;top:487px;font-size:5.4px;color:#888;-webkit-text-stroke:0.14px #888;">-</span>
<div class="a " style="left:919.3px;top:496.63px;width:53.9px;height:13.19px;background:#f3fbfc;"></div>
<span class="t" style="left:769.2px;top:501px;font-size:5.4px;color:#1c1c1c;-webkit-text-stroke:0.14px #1c1c1c;">display_all_user</span>
<span class="t" style="left:907.5px;top:501px;font-size:5.4px;color:#1c1c1c;-webkit-text-stroke:0.14px #1c1c1c;">0%</span>
<span class="t" style="left:966.2px;top:501px;font-size:5.4px;color:#1c1c1c;-webkit-text-stroke:0.14px #1c1c1c;">0</span>
<span class="t" style="left:1018.2px;top:501px;font-size:5.4px;color:#888;-webkit-text-stroke:0.14px #888;">-</span>
<div class="a " style="left:919.3px;top:509.82px;width:53.9px;height:13.19px;background:#f3fbfc;"></div>
<span class="t" style="left:769.2px;top:514px;font-size:5.4px;color:#1c1c1c;-webkit-text-stroke:0.14px #1c1c1c;">aaaa</span>
<span class="t" style="left:907.5px;top:514px;font-size:5.4px;color:#1c1c1c;-webkit-text-stroke:0.14px #1c1c1c;">0%</span>
<span class="t" style="left:966.2px;top:514px;font-size:5.4px;color:#1c1c1c;-webkit-text-stroke:0.14px #1c1c1c;">0</span>
<span class="t" style="left:1018.2px;top:514px;font-size:5.4px;color:#888;-webkit-text-stroke:0.14px #888;">-</span>
<svg class="a" style="left:0;top:0" width="1080" height="1080"><path d="M765.2 417.09H1024M765.2 430.28H1024M765.2 443.47H1024M765.2 456.66H1024M765.2 469.85H1024M765.2 483.04H1024M765.2 496.23H1024M765.2 509.42H1024M765.2 522.61H1024" stroke="#dedede" stroke-width="0.8" fill="none"/></svg>
</div>
<span class="t" style="left:963.83px;top:522px;font-size:5.3px;color:#444;-webkit-text-stroke:0.14px #444;">1 - 10 / 10</span>
<svg class="a" style="left:998.14px;top:521.15px" width="4.12" height="5.5" viewBox="0 0 6 8"><path d="M5 0.5L1.2 4L5 7.5" fill="none" stroke="#b8b8b8" stroke-width="1.1"/></svg>
<svg class="a" style="left:1014.44px;top:521.15px" width="4.12" height="5.5" viewBox="0 0 6 8"><path d="M1 0.5L4.8 4L1 7.5" fill="none" stroke="#b8b8b8" stroke-width="1.1"/></svg>
<span class="t b" style="left:507.8px;top:551px;font-size:7.2px;color:#1c1c1c;transform:scaleX(0.94);-webkit-text-stroke:0.18px #1c1c1c;">By Audience, Gender and Age</span>
<span class="t b" style="left:649.1px;top:551px;font-size:7.2px;color:#1c1c1c;transform:scaleX(0.94);-webkit-text-stroke:0.18px #1c1c1c;">By Device</span>
<span class="t b" style="left:792.1px;top:549px;font-size:7.2px;color:#1c1c1c;transform:scaleX(0.94);-webkit-text-stroke:0.18px #1c1c1c;">Day of week and Hour of day</span>
<span class="t b" style="left:935px;top:549px;font-size:7.2px;color:#1c1c1c;transform:scaleX(0.94);-webkit-text-stroke:0.18px #1c1c1c;">By Town</span>
<div class="a tb" style="left:501.9px;top:562.7px;width:136.4px;height:137px;"></div>
<div class="a " style="left:501.9px;top:562.7px;width:136.4px;height:12.6px;background:#e2e2e2;"></div>
<span class="t b" style="left:514.3px;top:566px;font-size:6.3px;color:#1f1f1f;transform:scaleX(0.94);-webkit-text-stroke:0.16px #1f1f1f;">Audience</span>
<span class="t b" style="left:551px;top:566px;font-size:6.3px;color:#1f1f1f;transform:scaleX(0.94);-webkit-text-stroke:0.16px #1f1f1f;">Impress…</span>
<span class="t b" style="left:587.3px;top:566px;font-size:6.3px;color:#1f1f1f;transform:scaleX(0.94);-webkit-text-stroke:0.16px #1f1f1f;">%…</span>
<span class="t b" style="left:605.3px;top:566px;font-size:6.3px;color:#1f1f1f;transform:scaleX(0.94);-webkit-text-stroke:0.16px #1f1f1f;">Impr…</span>
<svg class="a" style="left:628.8px;top:567.76px" width="3" height="1.88" viewBox="0 0 8 5"><path d="M0 0H8L4 5Z" fill="#444"/></svg>
<div class="a" style="left:0;top:0;width:1080px;height:1080px;clip-path:inset(575.3px 441.7px 380.3px 501.9px);">
<div class="a " style="left:547px;top:575.3px;width:36.3px;height:12.95px;background:#0470f0;"></div>
<div class="a " style="left:601.3px;top:575.3px;width:37px;height:12.95px;background:#06b4c6;"></div>
<span class="t" style="left:505.4px;top:579px;font-size:5.4px;color:#444;-webkit-text-stroke:0.14px #444;">1.</span>
<span class="t" style="left:514.3px;top:579px;font-size:5.4px;color:#1c1c1c;-webkit-text-stroke:0.14px #1c1c1c;">customer …</span>
<span class="t" style="left:565.89px;top:579px;font-size:5.4px;color:#1c1c1c;-webkit-text-stroke:0.14px #1c1c1c;">100%</span>
<span class="t" style="left:587.3px;top:579px;font-size:5.4px;color:#1c1c1c;-webkit-text-stroke:0.14px #1c1c1c;">14…</span>
<span class="t" style="left:628.69px;top:579px;font-size:5.4px;color:#1c1c1c;-webkit-text-stroke:0.14px #1c1c1c;">14</span>
<svg class="a" style="left:0;top:0" width="1080" height="1080"><path d="M501.9 587.85H638.3" stroke="#dedede" stroke-width="0.8" fill="none"/></svg>
</div>
<span class="t" style="left:583.73px;top:692px;font-size:5.3px;color:#444;-webkit-text-stroke:0.14px #444;">1 - 1 / 1</span>
<svg class="a" style="left:612.74px;top:690.95px" width="4.12" height="5.5" viewBox="0 0 6 8"><path d="M5 0.5L1.2 4L5 7.5" fill="none" stroke="#b8b8b8" stroke-width="1.1"/></svg>
<svg class="a" style="left:629.04px;top:690.95px" width="4.12" height="5.5" viewBox="0 0 6 8"><path d="M1 0.5L4.8 4L1 7.5" fill="none" stroke="#b8b8b8" stroke-width="1.1"/></svg>
<div class="a tb" style="left:645px;top:562.7px;width:136.4px;height:137px;"></div>
<div class="a " style="left:645px;top:562.7px;width:136.4px;height:12.6px;background:#e2e2e2;"></div>
<span class="t b" style="left:657.4px;top:566px;font-size:6.3px;color:#1f1f1f;transform:scaleX(0.94);-webkit-text-stroke:0.16px #1f1f1f;">Device</span>
<span class="t b" style="left:694.1px;top:566px;font-size:6.3px;color:#1f1f1f;transform:scaleX(0.94);-webkit-text-stroke:0.16px #1f1f1f;">Impress…</span>
<span class="t b" style="left:730.9px;top:566px;font-size:6.3px;color:#1f1f1f;transform:scaleX(0.94);-webkit-text-stroke:0.16px #1f1f1f;">%…</span>
<span class="t b" style="left:748.9px;top:566px;font-size:6.3px;color:#1f1f1f;transform:scaleX(0.94);-webkit-text-stroke:0.16px #1f1f1f;">Impr…</span>
<svg class="a" style="left:771.9px;top:567.76px" width="3" height="1.88" viewBox="0 0 8 5"><path d="M0 0H8L4 5Z" fill="#444"/></svg>
<div class="a" style="left:0;top:0;width:1080px;height:1080px;clip-path:inset(575.3px 298.6px 380.3px 645px);">
<div class="a " style="left:690.1px;top:575.3px;width:36.8px;height:12.95px;background:#0470f0;"></div>
<div class="a " style="left:744.9px;top:575.3px;width:36.5px;height:12.95px;background:#06b4c6;"></div>
<span class="t" style="left:648.5px;top:579px;font-size:5.4px;color:#444;-webkit-text-stroke:0.14px #444;">1.</span>
<span class="t" style="left:657.4px;top:579px;font-size:5.4px;color:#1c1c1c;-webkit-text-stroke:0.14px #1c1c1c;">mobile de…</span>
<span class="t" style="left:704.99px;top:579px;font-size:5.4px;color:#1c1c1c;-webkit-text-stroke:0.14px #1c1c1c;">90.16%</span>
<span class="t" style="left:730.9px;top:579px;font-size:5.4px;color:#1c1c1c;-webkit-text-stroke:0.14px #1c1c1c;">1…</span>
<span class="t" style="left:764.29px;top:579px;font-size:5.4px;color:#1c1c1c;-webkit-text-stroke:0.14px #1c1c1c;">3,204</span>
<div class="a " style="left:690.1px;top:588.25px;width:36.8px;height:12.95px;background:#318af3;"></div>
<div class="a " style="left:744.9px;top:588.25px;width:36.5px;height:12.95px;background:#b4e8ee;"></div>
<span class="t" style="left:648.5px;top:592px;font-size:5.4px;color:#444;-webkit-text-stroke:0.14px #444;">2.</span>
<span class="t" style="left:657.4px;top:592px;font-size:5.4px;color:#1c1c1c;-webkit-text-stroke:0.14px #1c1c1c;">computers</span>
<span class="t" style="left:704.99px;top:592px;font-size:5.4px;color:#1c1c1c;-webkit-text-stroke:0.14px #1c1c1c;">72.59%</span>
<span class="t" style="left:730.9px;top:592px;font-size:5.4px;color:#1c1c1c;-webkit-text-stroke:0.14px #1c1c1c;">3…</span>
<span class="t" style="left:768.79px;top:592px;font-size:5.4px;color:#1c1c1c;-webkit-text-stroke:0.14px #1c1c1c;">881</span>
<div class="a " style="left:690.1px;top:601.2px;width:36.8px;height:12.95px;background:#187bf1;"></div>
<div class="a " style="left:744.9px;top:601.2px;width:36.5px;height:12.95px;background:#f4fcfc;"></div>
<span class="t" style="left:648.5px;top:605px;font-size:5.4px;color:#444;-webkit-text-stroke:0.14px #444;">3.</span>
<span class="t" style="left:657.4px;top:605px;font-size:5.4px;color:#1c1c1c;-webkit-text-stroke:0.14px #1c1c1c;">tablets wit…</span>
<span class="t" style="left:704.99px;top:605px;font-size:5.4px;color:#1c1c1c;-webkit-text-stroke:0.14px #1c1c1c;">81.25%</span>
<span class="t" style="left:730.9px;top:605px;font-size:5.4px;color:#1c1c1c;-webkit-text-stroke:0.14px #1c1c1c;">8…</span>
<span class="t" style="left:771.79px;top:605px;font-size:5.4px;color:#1c1c1c;-webkit-text-stroke:0.14px #1c1c1c;">28</span>
<svg class="a" style="left:0;top:0" width="1080" height="1080"><path d="M645 587.85H781.4M645 600.8H781.4M645 613.75H781.4" stroke="#dedede" stroke-width="0.8" fill="none"/></svg>
</div>
<span class="t" style="left:726.83px;top:692px;font-size:5.3px;color:#444;-webkit-text-stroke:0.14px #444;">1 - 3 / 3</span>
<svg class="a" style="left:755.84px;top:690.95px" width="4.12" height="5.5" viewBox="0 0 6 8"><path d="M5 0.5L1.2 4L5 7.5" fill="none" stroke="#b8b8b8" stroke-width="1.1"/></svg>
<svg class="a" style="left:772.14px;top:690.95px" width="4.12" height="5.5" viewBox="0 0 6 8"><path d="M1 0.5L4.8 4L1 7.5" fill="none" stroke="#b8b8b8" stroke-width="1.1"/></svg>
<div class="a tb" style="left:788.1px;top:561.5px;width:136.4px;height:138.2px;"></div>
<div class="a " style="left:788.1px;top:561.5px;width:136.4px;height:12.3px;background:#e2e2e2;"></div>
<span class="t b" style="left:800.5px;top:564px;font-size:6.3px;color:#1f1f1f;transform:scaleX(0.94);-webkit-text-stroke:0.16px #1f1f1f;">Day of …</span>
<span class="t b" style="left:837.7px;top:564px;font-size:6.3px;color:#1f1f1f;transform:scaleX(0.94);-webkit-text-stroke:0.16px #1f1f1f;">Impress…</span>
<span class="t b" style="left:874px;top:564px;font-size:6.3px;color:#1f1f1f;transform:scaleX(0.94);-webkit-text-stroke:0.16px #1f1f1f;">%…</span>
<span class="t b" style="left:892.2px;top:564px;font-size:6.3px;color:#1f1f1f;transform:scaleX(0.94);-webkit-text-stroke:0.16px #1f1f1f;">Impr…</span>
<svg class="a" style="left:915px;top:566.41px" width="3" height="1.88" viewBox="0 0 8 5"><path d="M0 0H8L4 5Z" fill="#444"/></svg>
<div class="a" style="left:0;top:0;width:1080px;height:1080px;clip-path:inset(573.8px 155.5px 380.3px 788.1px);">
<div class="a " style="left:833.7px;top:573.8px;width:36.3px;height:13.1px;background:#1379f1;"></div>
<div class="a " style="left:888.2px;top:573.8px;width:36.3px;height:13.1px;background:#06b4c6;"></div>
<span class="t" style="left:791.6px;top:578px;font-size:5.4px;color:#444;-webkit-text-stroke:0.14px #444;">1.</span>
<span class="t" style="left:800.5px;top:578px;font-size:5.4px;color:#1c1c1c;-webkit-text-stroke:0.14px #1c1c1c;">Friday</span>
<span class="t" style="left:848.09px;top:578px;font-size:5.4px;color:#1c1c1c;-webkit-text-stroke:0.14px #1c1c1c;">85.24%</span>
<span class="t" style="left:874px;top:578px;font-size:5.4px;color:#1c1c1c;-webkit-text-stroke:0.14px #1c1c1c;">3…</span>
<span class="t" style="left:911.89px;top:578px;font-size:5.4px;color:#1c1c1c;-webkit-text-stroke:0.14px #1c1c1c;">687</span>
<div class="a " style="left:833.7px;top:586.9px;width:36.3px;height:13.1px;background:#167af1;"></div>
<div class="a " style="left:888.2px;top:586.9px;width:36.3px;height:13.1px;background:#07b4c6;"></div>
<span class="t" style="left:791.6px;top:591px;font-size:5.4px;color:#444;-webkit-text-stroke:0.14px #444;">2.</span>
<span class="t" style="left:800.5px;top:591px;font-size:5.4px;color:#1c1c1c;-webkit-text-stroke:0.14px #1c1c1c;">Thursday</span>
<span class="t" style="left:848.09px;top:591px;font-size:5.4px;color:#1c1c1c;-webkit-text-stroke:0.14px #1c1c1c;">84.08%</span>
<span class="t" style="left:874px;top:591px;font-size:5.4px;color:#1c1c1c;-webkit-text-stroke:0.14px #1c1c1c;">3…</span>
<span class="t" style="left:911.89px;top:591px;font-size:5.4px;color:#1c1c1c;-webkit-text-stroke:0.14px #1c1c1c;">683</span>
<div class="a " style="left:833.7px;top:600px;width:36.3px;height:13.1px;background:#167af1;"></div>
<div class="a " style="left:888.2px;top:600px;width:36.3px;height:13.1px;background:#18b9ca;"></div>
<span class="t" style="left:791.6px;top:604px;font-size:5.4px;color:#444;-webkit-text-stroke:0.14px #444;">3.</span>
<span class="t" style="left:800.5px;top:604px;font-size:5.4px;color:#1c1c1c;-webkit-text-stroke:0.14px #1c1c1c;">Saturday</span>
<span class="t" style="left:851.09px;top:604px;font-size:5.4px;color:#1c1c1c;-webkit-text-stroke:0.14px #1c1c1c;">84.1%</span>
<span class="t" style="left:874px;top:604px;font-size:5.4px;color:#1c1c1c;-webkit-text-stroke:0.14px #1c1c1c;">-3…</span>
<span class="t" style="left:911.89px;top:604px;font-size:5.4px;color:#1c1c1c;-webkit-text-stroke:0.14px #1c1c1c;">621</span>
<div class="a " style="left:833.7px;top:613.1px;width:36.3px;height:13.1px;background:#0e76f1;"></div>
<div class="a " style="left:888.2px;top:613.1px;width:36.3px;height:13.1px;background:#19baca;"></div>
<span class="t" style="left:791.6px;top:617px;font-size:5.4px;color:#444;-webkit-text-stroke:0.14px #444;">4.</span>
<span class="t" style="left:800.5px;top:617px;font-size:5.4px;color:#1c1c1c;-webkit-text-stroke:0.14px #1c1c1c;">Wednesday</span>
<span class="t" style="left:848.09px;top:617px;font-size:5.4px;color:#1c1c1c;-webkit-text-stroke:0.14px #1c1c1c;">86.45%</span>
<span class="t" style="left:874px;top:617px;font-size:5.4px;color:#1c1c1c;-webkit-text-stroke:0.14px #1c1c1c;">1…</span>
<span class="t" style="left:911.89px;top:617px;font-size:5.4px;color:#1c1c1c;-webkit-text-stroke:0.14px #1c1c1c;">616</span>
<div class="a " style="left:833.7px;top:626.2px;width:36.3px;height:13.1px;background:#0470f0;"></div>
<div class="a " style="left:888.2px;top:626.2px;width:36.3px;height:13.1px;background:#35c2d1;"></div>
<span class="t" style="left:791.6px;top:630px;font-size:5.4px;color:#444;-webkit-text-stroke:0.14px #444;">5.</span>
<span class="t" style="left:800.5px;top:630px;font-size:5.4px;color:#1c1c1c;-webkit-text-stroke:0.14px #1c1c1c;">Monday</span>
<span class="t" style="left:848.09px;top:630px;font-size:5.4px;color:#1c1c1c;-webkit-text-stroke:0.14px #1c1c1c;">89.29%</span>
<span class="t" style="left:874px;top:630px;font-size:5.4px;color:#1c1c1c;-webkit-text-stroke:0.14px #1c1c1c;">7…</span>
<span class="t" style="left:911.89px;top:630px;font-size:5.4px;color:#1c1c1c;-webkit-text-stroke:0.14px #1c1c1c;">515</span>
<div class="a " style="left:833.7px;top:639.3px;width:36.3px;height:13.1px;background:#0973f0;"></div>
<div class="a " style="left:888.2px;top:639.3px;width:36.3px;height:13.1px;background:#39c3d2;"></div>
<span class="t" style="left:791.6px;top:643px;font-size:5.4px;color:#444;-webkit-text-stroke:0.14px #444;">6.</span>
<span class="t" style="left:800.5px;top:643px;font-size:5.4px;color:#1c1c1c;-webkit-text-stroke:0.14px #1c1c1c;">Tuesday</span>
<span class="t" style="left:848.09px;top:643px;font-size:5.4px;color:#1c1c1c;-webkit-text-stroke:0.14px #1c1c1c;">87.41%</span>
<span class="t" style="left:874px;top:643px;font-size:5.4px;color:#1c1c1c;-webkit-text-stroke:0.14px #1c1c1c;">7…</span>
<span class="t" style="left:911.89px;top:643px;font-size:5.4px;color:#1c1c1c;-webkit-text-stroke:0.14px #1c1c1c;">498</span>
<div class="a " style="left:833.7px;top:652.4px;width:36.3px;height:13.1px;background:#1177f1;"></div>
<div class="a " style="left:888.2px;top:652.4px;width:36.3px;height:13.1px;background:#3bc4d2;"></div>
<span class="t" style="left:791.6px;top:656px;font-size:5.4px;color:#444;-webkit-text-stroke:0.14px #444;">7.</span>
<span class="t" style="left:800.5px;top:656px;font-size:5.4px;color:#1c1c1c;-webkit-text-stroke:0.14px #1c1c1c;">Sunday</span>
<span class="t" style="left:848.09px;top:656px;font-size:5.4px;color:#1c1c1c;-webkit-text-stroke:0.14px #1c1c1c;">85.98%</span>
<span class="t" style="left:874px;top:656px;font-size:5.4px;color:#1c1c1c;-webkit-text-stroke:0.14px #1c1c1c;">0…</span>
<span class="t" style="left:911.89px;top:656px;font-size:5.4px;color:#1c1c1c;-webkit-text-stroke:0.14px #1c1c1c;">493</span>
<svg class="a" style="left:0;top:0" width="1080" height="1080"><path d="M788.1 586.5H924.5M788.1 599.6H924.5M788.1 612.7H924.5M788.1 625.8H924.5M788.1 638.9H924.5M788.1 652H924.5M788.1 665.1H924.5" stroke="#dedede" stroke-width="0.8" fill="none"/></svg>
</div>
<span class="t" style="left:869.93px;top:692px;font-size:5.3px;color:#444;-webkit-text-stroke:0.14px #444;">1 - 7 / 7</span>
<svg class="a" style="left:898.94px;top:690.95px" width="4.12" height="5.5" viewBox="0 0 6 8"><path d="M5 0.5L1.2 4L5 7.5" fill="none" stroke="#b8b8b8" stroke-width="1.1"/></svg>
<svg class="a" style="left:915.24px;top:690.95px" width="4.12" height="5.5" viewBox="0 0 6 8"><path d="M1 0.5L4.8 4L1 7.5" fill="none" stroke="#b8b8b8" stroke-width="1.1"/></svg>
<div class="a tb" style="left:931.2px;top:561.5px;width:117.8px;height:138.2px;"></div>
<div class="a " style="left:931.2px;top:561.5px;width:117.8px;height:12.3px;background:#e2e2e2;"></div>
<span class="t b" style="left:934.9px;top:564px;font-size:6.3px;color:#1f1f1f;transform:scaleX(0.94);-webkit-text-stroke:0.16px #1f1f1f;">City</span>
<span class="t b" style="left:969px;top:564px;font-size:6.3px;color:#1f1f1f;transform:scaleX(0.94);-webkit-text-stroke:0.16px #1f1f1f;">Impres…</span>
<span class="t b" style="left:1002.6px;top:564px;font-size:6.3px;color:#1f1f1f;transform:scaleX(0.94);-webkit-text-stroke:0.16px #1f1f1f;">%…</span>
<span class="t b" style="left:1019.5px;top:564px;font-size:6.3px;color:#1f1f1f;transform:scaleX(0.94);-webkit-text-stroke:0.16px #1f1f1f;">Impr…</span>
<svg class="a" style="left:1040.9px;top:566.41px" width="3" height="1.88" viewBox="0 0 8 5"><path d="M0 0H8L4 5Z" fill="#444"/></svg>
<div class="a" style="left:0;top:0;width:1080px;height:1080px;clip-path:inset(573.8px 31px 392.7px 931.2px);">
<div class="a " style="left:965.3px;top:573.8px;width:33.6px;height:13.12px;background:#bbd8fb;"></div>
<div class="a " style="left:1015.8px;top:573.8px;width:33.3px;height:13.12px;background:#06b4c6;"></div>
<span class="t" style="left:934.9px;top:578px;font-size:5.4px;color:#1c1c1c;-webkit-text-stroke:0.14px #1c1c1c;">Mumbai</span>
<span class="t" style="left:976.99px;top:578px;font-size:5.4px;color:#1c1c1c;-webkit-text-stroke:0.14px #1c1c1c;">91.51%</span>
<span class="t" style="left:1002.6px;top:578px;font-size:5.4px;color:#1c1c1c;-webkit-text-stroke:0.14px #1c1c1c;">-3…</span>
<span class="t" style="left:1036.49px;top:578px;font-size:5.4px;color:#1c1c1c;-webkit-text-stroke:0.14px #1c1c1c;">504</span>
<div class="a " style="left:965.3px;top:586.92px;width:33.6px;height:13.12px;background:#bbd8fb;"></div>
<div class="a " style="left:1015.8px;top:586.92px;width:33.3px;height:13.12px;background:#83dae3;"></div>
<span class="t" style="left:934.9px;top:591px;font-size:5.4px;color:#1c1c1c;-webkit-text-stroke:0.14px #1c1c1c;">New Delhi</span>
<span class="t" style="left:976.99px;top:591px;font-size:5.4px;color:#1c1c1c;-webkit-text-stroke:0.14px #1c1c1c;">92.17%</span>
<span class="t" style="left:1002.6px;top:591px;font-size:5.4px;color:#1c1c1c;-webkit-text-stroke:0.14px #1c1c1c;">1…</span>
<span class="t" style="left:1036.49px;top:591px;font-size:5.4px;color:#1c1c1c;-webkit-text-stroke:0.14px #1c1c1c;">228</span>
<div class="a " style="left:965.3px;top:600.04px;width:33.6px;height:13.12px;background:#bbd8fb;"></div>
<div class="a " style="left:1015.8px;top:600.04px;width:33.3px;height:13.12px;background:#8edde5;"></div>
<span class="t" style="left:934.9px;top:604px;font-size:5.4px;color:#1c1c1c;-webkit-text-stroke:0.14px #1c1c1c;">Delhi</span>
<span class="t" style="left:976.99px;top:604px;font-size:5.4px;color:#1c1c1c;-webkit-text-stroke:0.14px #1c1c1c;">91.49%</span>
<span class="t" style="left:1002.6px;top:604px;font-size:5.4px;color:#1c1c1c;-webkit-text-stroke:0.14px #1c1c1c;">-5…</span>
<span class="t" style="left:1036.49px;top:604px;font-size:5.4px;color:#1c1c1c;-webkit-text-stroke:0.14px #1c1c1c;">204</span>
<div class="a " style="left:965.3px;top:613.16px;width:33.6px;height:13.12px;background:#bbd8fb;"></div>
<div class="a " style="left:1015.8px;top:613.16px;width:33.3px;height:13.12px;background:#a4e4ea;"></div>
<span class="t" style="left:934.9px;top:617px;font-size:5.4px;color:#1c1c1c;-webkit-text-stroke:0.14px #1c1c1c;">Bengaluru</span>
<span class="t" style="left:976.99px;top:617px;font-size:5.4px;color:#1c1c1c;-webkit-text-stroke:0.14px #1c1c1c;">91.36%</span>
<span class="t" style="left:1002.6px;top:617px;font-size:5.4px;color:#1c1c1c;-webkit-text-stroke:0.14px #1c1c1c;">-2…</span>
<span class="t" style="left:1036.49px;top:617px;font-size:5.4px;color:#1c1c1c;-webkit-text-stroke:0.14px #1c1c1c;">157</span>
<div class="a " style="left:965.3px;top:626.28px;width:33.6px;height:13.12px;background:#bbd8fb;"></div>
<div class="a " style="left:1015.8px;top:626.28px;width:33.3px;height:13.12px;background:#a4e4ea;"></div>
<span class="t" style="left:934.9px;top:630px;font-size:5.4px;color:#1c1c1c;-webkit-text-stroke:0.14px #1c1c1c;">Noida</span>
<span class="t" style="left:976.99px;top:630px;font-size:5.4px;color:#1c1c1c;-webkit-text-stroke:0.14px #1c1c1c;">96.25%</span>
<span class="t" style="left:1002.6px;top:630px;font-size:5.4px;color:#1c1c1c;-webkit-text-stroke:0.14px #1c1c1c;">0…</span>
<span class="t" style="left:1036.49px;top:630px;font-size:5.4px;color:#1c1c1c;-webkit-text-stroke:0.14px #1c1c1c;">156</span>
<div class="a " style="left:965.3px;top:639.4px;width:33.6px;height:13.12px;background:#bbd8fb;"></div>
<div class="a " style="left:1015.8px;top:639.4px;width:33.3px;height:13.12px;background:#b2e8ed;"></div>
<span class="t" style="left:934.9px;top:643px;font-size:5.4px;color:#1c1c1c;-webkit-text-stroke:0.14px #1c1c1c;">Gurugram</span>
<span class="t" style="left:976.99px;top:643px;font-size:5.4px;color:#1c1c1c;-webkit-text-stroke:0.14px #1c1c1c;">98.46%</span>
<span class="t" style="left:1002.6px;top:643px;font-size:5.4px;color:#1c1c1c;-webkit-text-stroke:0.14px #1c1c1c;">5…</span>
<span class="t" style="left:1036.49px;top:643px;font-size:5.4px;color:#1c1c1c;-webkit-text-stroke:0.14px #1c1c1c;">126</span>
<div class="a " style="left:965.3px;top:652.52px;width:33.6px;height:13.12px;background:#bbd8fb;"></div>
<div class="a " style="left:1015.8px;top:652.52px;width:33.3px;height:13.12px;background:#baeaef;"></div>
<span class="t" style="left:934.9px;top:656px;font-size:5.4px;color:#1c1c1c;-webkit-text-stroke:0.14px #1c1c1c;">Dubai</span>
<span class="t" style="left:976.99px;top:656px;font-size:5.4px;color:#1c1c1c;-webkit-text-stroke:0.14px #1c1c1c;">83.61%</span>
<span class="t" style="left:1002.6px;top:656px;font-size:5.4px;color:#1c1c1c;-webkit-text-stroke:0.14px #1c1c1c;">1…</span>
<span class="t" style="left:1036.49px;top:656px;font-size:5.4px;color:#1c1c1c;-webkit-text-stroke:0.14px #1c1c1c;">107</span>
<div class="a " style="left:965.3px;top:665.64px;width:33.6px;height:13.12px;background:#bbd8fb;"></div>
<div class="a " style="left:1015.8px;top:665.64px;width:33.3px;height:13.12px;background:#bcebf0;"></div>
<span class="t" style="left:934.9px;top:670px;font-size:5.4px;color:#1c1c1c;-webkit-text-stroke:0.14px #1c1c1c;">London</span>
<span class="t" style="left:976.99px;top:670px;font-size:5.4px;color:#1c1c1c;-webkit-text-stroke:0.14px #1c1c1c;">84.75%</span>
<span class="t" style="left:1002.6px;top:670px;font-size:5.4px;color:#1c1c1c;-webkit-text-stroke:0.14px #1c1c1c;">-5…</span>
<span class="t" style="left:1036.49px;top:670px;font-size:5.4px;color:#1c1c1c;-webkit-text-stroke:0.14px #1c1c1c;">103</span>
<div class="a " style="left:965.3px;top:678.76px;width:33.6px;height:13.12px;background:#bbd8fb;"></div>
<div class="a " style="left:1015.8px;top:678.76px;width:33.3px;height:13.12px;background:#c9eff3;"></div>
<span class="t" style="left:934.9px;top:683px;font-size:5.4px;color:#1c1c1c;-webkit-text-stroke:0.14px #1c1c1c;">Surat</span>
<span class="t" style="left:984.49px;top:683px;font-size:5.4px;color:#1c1c1c;-webkit-text-stroke:0.14px #1c1c1c;">95%</span>
<span class="t" style="left:1002.6px;top:683px;font-size:5.4px;color:#1c1c1c;-webkit-text-stroke:0.14px #1c1c1c;">2…</span>
<span class="t" style="left:1039.49px;top:683px;font-size:5.4px;color:#1c1c1c;-webkit-text-stroke:0.14px #1c1c1c;">75</span>
<svg class="a" style="left:0;top:0" width="1080" height="1080"><path d="M931.2 586.52H1049M931.2 599.64H1049M931.2 612.76H1049M931.2 625.88H1049M931.2 639H1049M931.2 652.12H1049M931.2 665.24H1049M931.2 678.36H1049M931.2 691.48H1049" stroke="#dedede" stroke-width="0.8" fill="none"/></svg>
</div>
<span class="t" style="left:983.84px;top:692px;font-size:5.3px;color:#444;-webkit-text-stroke:0.14px #444;">1 - 100 / 495</span>
<svg class="a" style="left:1024.24px;top:690.95px" width="4.12" height="5.5" viewBox="0 0 6 8"><path d="M5 0.5L1.2 4L5 7.5" fill="none" stroke="#b8b8b8" stroke-width="1.1"/></svg>
<svg class="a" style="left:1040.34px;top:690.95px" width="4.12" height="5.5" viewBox="0 0 6 8"><path d="M1 0.5L4.8 4L1 7.5" fill="none" stroke="#222" stroke-width="1.9"/></svg>
<svg class="a" style="left:895.5px;top:551.3px" width="7" height="6" viewBox="0 0 7 6"><path d="M0 .6H7M1.2 2.8H5.8M2.6 5H4.4" stroke="#707070" stroke-width=".9"/></svg>
<svg class="a" style="left:912.8px;top:551.3px" width="2" height="7" viewBox="0 0 2 7"><circle cx="1" cy="1" r=".65" fill="#555"/><circle cx="1" cy="3.3" r=".65" fill="#555"/><circle cx="1" cy="5.6" r=".65" fill="#555"/></svg>
<div class="a " style="left:497.8px;top:718.6px;width:551.4px;height:180.3px;background:#fff;"></div>
<span class="t" style="left:507.2px;top:723px;font-size:12.46px;color:#1e1e1e;-webkit-text-stroke:0.15px #1e1e1e;">Detailed metrics map / connected metrics</span>
<div class="a " style="left:686.4px;top:832px;width:68.9px;height:45.8px;background:#fff;box-shadow:0 0.9px 1.6px rgba(0,0,0,.26),0 0 1.2px rgba(0,0,0,.10);"></div>
<span class="t" style="left:697.8px;top:837px;font-size:6.26px;color:#555;">Impression (Top) %</span>
<span class="t" style="left:697.8px;top:846px;font-size:12.03px;color:#1e1e1e;-webkit-text-stroke:0.15px #1e1e1e;">88.04%</span>
<div class="a " style="left:798px;top:832px;width:69px;height:46px;background:#fff;box-shadow:inset 0 0 0 1px #959595,0 0.6px 0.8px rgba(0,0,0,.18);"></div>
<span class="t" style="left:810.3px;top:838px;font-size:6.35px;color:#555;">Impression (Absolute Top) %</span>
<span class="t" style="left:810.3px;top:846px;font-size:12.03px;color:#1e1e1e;-webkit-text-stroke:0.15px #1e1e1e;">85.94%</span>
<svg class="a" style="left:0;top:0" width="1080" height="1080"><path d="M798.6 855.45H758.3" stroke="#47a64e" stroke-width="1.1"/><path d="M755.6 855.45L761.54 853.16V857.75Z" fill="#3a9a42"/></svg>
<div class="a " style="left:0px;top:0px;width:1080px;height:47px;background:#fff;box-shadow:0 0 1px rgba(0,0,0,.05);"></div>
<div class="a " style="left:402px;top:4px;width:1px;height:43px;background:#f0f0f0;"></div>
<span class="t" style="left:359.5px;top:22px;font-size:11.3px;color:#666;transform:scaleX(0.99);-webkit-text-stroke:0.42px #666;">Map</span>
<span class="t" style="left:423.3px;top:20px;font-size:11.3px;color:#666;transform:scaleX(0.99);-webkit-text-stroke:0.42px #666;">Conversions</span>
<span class="t" style="left:528.3px;top:20px;font-size:11.3px;color:#666;transform:scaleX(1.04);-webkit-text-stroke:0.42px #666;">Interactions</span>
<span class="t" style="left:631.4px;top:20px;font-size:11.3px;color:#1a78d6;transform:scaleX(1.02);-webkit-text-stroke:0.42px #1a78d6;">Impressions</span>
<svg class="a" style="left:490.8px;top:24.8px" width="7" height="4" viewBox="0 0 7 4"><path d="M0 0H7L3.5 3.6Z" fill="#666"/></svg>
<svg class="a" style="left:594.2px;top:24.8px" width="7" height="4" viewBox="0 0 7 4"><path d="M0 0H7L3.5 3.6Z" fill="#666"/></svg>
<svg class="a" style="left:699.8px;top:24.8px" width="7" height="4" viewBox="0 0 7 4"><path d="M0 0H7L3.5 3.6Z" fill="#1a78d6"/></svg>
</div></body></html>
